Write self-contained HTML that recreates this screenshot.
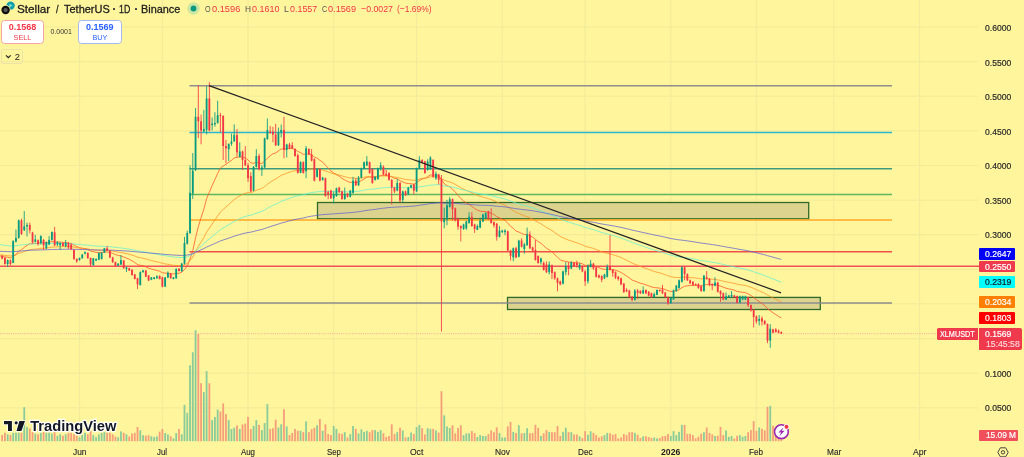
<!DOCTYPE html>
<html><head><meta charset="utf-8"><style>
*{margin:0;padding:0;box-sizing:border-box}
.aa{position:absolute;left:0;top:0;width:1024px;height:457px;will-change:transform}
html,body{width:1024px;height:457px;overflow:hidden;background:#FFF59D;font-family:"Liberation Sans",sans-serif;}
#c{position:absolute;left:0;top:0}
.t{position:absolute;white-space:nowrap;line-height:1}
.ax{position:absolute;left:984.8px;font-size:8.6px;color:#2a2a2a;-webkit-text-stroke:0.25px #2a2a2a;white-space:nowrap;line-height:1;transform-origin:left center;}
.lb{position:absolute;left:979px;width:35.6px;height:11.7px;font-size:8.7px;color:#fff;padding-left:6px;line-height:11.9px;white-space:nowrap}
.tl{position:absolute;top:447.6px;font-size:8.5px;color:#2a2a2a;white-space:nowrap;line-height:1;transform:translateX(-50%)}
</style></head><body><div class="aa">
<svg id="c" width="1024" height="457" viewBox="0 0 1024 457">
<line x1="0" y1="27.00" x2="978" y2="27.00" stroke="#F4EB9A" stroke-width="1.2"/>
<line x1="0" y1="61.62" x2="978" y2="61.62" stroke="#F4EB9A" stroke-width="1.2"/>
<line x1="0" y1="96.24" x2="978" y2="96.24" stroke="#F4EB9A" stroke-width="1.2"/>
<line x1="0" y1="130.86" x2="978" y2="130.86" stroke="#F4EB9A" stroke-width="1.2"/>
<line x1="0" y1="165.48" x2="978" y2="165.48" stroke="#F4EB9A" stroke-width="1.2"/>
<line x1="0" y1="200.10" x2="978" y2="200.10" stroke="#F4EB9A" stroke-width="1.2"/>
<line x1="0" y1="234.72" x2="978" y2="234.72" stroke="#F4EB9A" stroke-width="1.2"/>
<line x1="0" y1="269.34" x2="978" y2="269.34" stroke="#F4EB9A" stroke-width="1.2"/>
<line x1="0" y1="303.96" x2="978" y2="303.96" stroke="#F4EB9A" stroke-width="1.2"/>
<line x1="0" y1="338.58" x2="978" y2="338.58" stroke="#F4EB9A" stroke-width="1.2"/>
<line x1="0" y1="373.20" x2="978" y2="373.20" stroke="#F4EB9A" stroke-width="1.2"/>
<line x1="0" y1="407.82" x2="978" y2="407.82" stroke="#F4EB9A" stroke-width="1.2"/>
<line x1="79.5" y1="0" x2="79.5" y2="441" stroke="#F4EB9A" stroke-width="1.2"/>
<line x1="162.4" y1="0" x2="162.4" y2="441" stroke="#F4EB9A" stroke-width="1.2"/>
<line x1="248.0" y1="0" x2="248.0" y2="441" stroke="#F4EB9A" stroke-width="1.2"/>
<line x1="333.7" y1="0" x2="333.7" y2="441" stroke="#F4EB9A" stroke-width="1.2"/>
<line x1="416.6" y1="0" x2="416.6" y2="441" stroke="#F4EB9A" stroke-width="1.2"/>
<line x1="502.2" y1="0" x2="502.2" y2="441" stroke="#F4EB9A" stroke-width="1.2"/>
<line x1="585.1" y1="0" x2="585.1" y2="441" stroke="#F4EB9A" stroke-width="1.2"/>
<line x1="670.8" y1="0" x2="670.8" y2="441" stroke="#F4EB9A" stroke-width="1.2"/>
<line x1="756.4" y1="0" x2="756.4" y2="441" stroke="#F4EB9A" stroke-width="1.2"/>
<line x1="833.8" y1="0" x2="833.8" y2="441" stroke="#F4EB9A" stroke-width="1.2"/>
<line x1="919.5" y1="0" x2="919.5" y2="441" stroke="#F4EB9A" stroke-width="1.2"/>
<rect x="1.24" y="435.03" width="1.8" height="6.17" fill="#F59E7B"/>
<rect x="4.00" y="432.83" width="1.8" height="8.37" fill="#F59E7B"/>
<rect x="6.76" y="434.30" width="1.8" height="6.90" fill="#8BCB9A"/>
<rect x="9.52" y="435.03" width="1.8" height="6.17" fill="#F59E7B"/>
<rect x="12.29" y="432.83" width="1.8" height="8.37" fill="#8BCB9A"/>
<rect x="15.05" y="432.83" width="1.8" height="8.37" fill="#8BCB9A"/>
<rect x="17.81" y="432.83" width="1.8" height="8.37" fill="#8BCB9A"/>
<rect x="20.58" y="432.83" width="1.8" height="8.37" fill="#F59E7B"/>
<rect x="23.34" y="407.20" width="1.8" height="34.00" fill="#8BCB9A"/>
<rect x="26.10" y="426.97" width="1.8" height="14.23" fill="#8BCB9A"/>
<rect x="28.87" y="428.44" width="1.8" height="12.76" fill="#F59E7B"/>
<rect x="31.63" y="432.10" width="1.8" height="9.10" fill="#F59E7B"/>
<rect x="34.39" y="433.56" width="1.8" height="7.64" fill="#8BCB9A"/>
<rect x="37.16" y="434.30" width="1.8" height="6.90" fill="#F59E7B"/>
<rect x="39.92" y="432.83" width="1.8" height="8.37" fill="#8BCB9A"/>
<rect x="42.68" y="432.10" width="1.8" height="9.10" fill="#F59E7B"/>
<rect x="45.44" y="432.83" width="1.8" height="8.37" fill="#8BCB9A"/>
<rect x="48.21" y="432.83" width="1.8" height="8.37" fill="#8BCB9A"/>
<rect x="50.97" y="433.56" width="1.8" height="7.64" fill="#8BCB9A"/>
<rect x="53.73" y="432.10" width="1.8" height="9.10" fill="#F59E7B"/>
<rect x="56.50" y="435.76" width="1.8" height="5.44" fill="#8BCB9A"/>
<rect x="59.26" y="434.30" width="1.8" height="6.90" fill="#8BCB9A"/>
<rect x="62.02" y="435.76" width="1.8" height="5.44" fill="#F59E7B"/>
<rect x="64.78" y="434.30" width="1.8" height="6.90" fill="#8BCB9A"/>
<rect x="67.55" y="432.83" width="1.8" height="8.37" fill="#F59E7B"/>
<rect x="70.31" y="432.83" width="1.8" height="8.37" fill="#F59E7B"/>
<rect x="73.07" y="434.30" width="1.8" height="6.90" fill="#F59E7B"/>
<rect x="75.84" y="435.76" width="1.8" height="5.44" fill="#F59E7B"/>
<rect x="78.60" y="437.22" width="1.8" height="3.98" fill="#8BCB9A"/>
<rect x="81.36" y="435.03" width="1.8" height="6.17" fill="#8BCB9A"/>
<rect x="84.13" y="432.83" width="1.8" height="8.37" fill="#8BCB9A"/>
<rect x="86.89" y="434.30" width="1.8" height="6.90" fill="#F59E7B"/>
<rect x="89.65" y="430.63" width="1.8" height="10.57" fill="#F59E7B"/>
<rect x="92.41" y="435.03" width="1.8" height="6.17" fill="#8BCB9A"/>
<rect x="95.18" y="437.22" width="1.8" height="3.98" fill="#8BCB9A"/>
<rect x="97.94" y="434.30" width="1.8" height="6.90" fill="#8BCB9A"/>
<rect x="100.70" y="432.83" width="1.8" height="8.37" fill="#8BCB9A"/>
<rect x="103.47" y="432.10" width="1.8" height="9.10" fill="#8BCB9A"/>
<rect x="106.23" y="432.83" width="1.8" height="8.37" fill="#F59E7B"/>
<rect x="108.99" y="432.83" width="1.8" height="8.37" fill="#F59E7B"/>
<rect x="111.76" y="434.30" width="1.8" height="6.90" fill="#F59E7B"/>
<rect x="114.52" y="436.49" width="1.8" height="4.71" fill="#F59E7B"/>
<rect x="117.28" y="437.22" width="1.8" height="3.98" fill="#8BCB9A"/>
<rect x="120.04" y="431.37" width="1.8" height="9.83" fill="#8BCB9A"/>
<rect x="122.81" y="432.83" width="1.8" height="8.37" fill="#F59E7B"/>
<rect x="125.57" y="434.30" width="1.8" height="6.90" fill="#8BCB9A"/>
<rect x="128.33" y="436.49" width="1.8" height="4.71" fill="#F59E7B"/>
<rect x="131.10" y="433.56" width="1.8" height="7.64" fill="#F59E7B"/>
<rect x="133.86" y="432.83" width="1.8" height="8.37" fill="#F59E7B"/>
<rect x="136.62" y="426.97" width="1.8" height="14.23" fill="#F59E7B"/>
<rect x="139.39" y="430.33" width="1.8" height="10.87" fill="#8BCB9A"/>
<rect x="142.15" y="435.18" width="1.8" height="6.02" fill="#8BCB9A"/>
<rect x="144.91" y="435.72" width="1.8" height="5.48" fill="#F59E7B"/>
<rect x="147.67" y="435.18" width="1.8" height="6.02" fill="#F59E7B"/>
<rect x="150.44" y="436.25" width="1.8" height="4.95" fill="#8BCB9A"/>
<rect x="153.20" y="437.06" width="1.8" height="4.14" fill="#8BCB9A"/>
<rect x="155.96" y="436.25" width="1.8" height="4.95" fill="#8BCB9A"/>
<rect x="158.73" y="431.68" width="1.8" height="9.52" fill="#F59E7B"/>
<rect x="161.49" y="428.99" width="1.8" height="12.21" fill="#F59E7B"/>
<rect x="164.25" y="433.02" width="1.8" height="8.18" fill="#8BCB9A"/>
<rect x="167.02" y="434.37" width="1.8" height="6.83" fill="#8BCB9A"/>
<rect x="169.78" y="436.25" width="1.8" height="4.95" fill="#F59E7B"/>
<rect x="172.54" y="438.41" width="1.8" height="2.79" fill="#8BCB9A"/>
<rect x="175.30" y="433.02" width="1.8" height="8.18" fill="#8BCB9A"/>
<rect x="178.07" y="428.99" width="1.8" height="12.21" fill="#F59E7B"/>
<rect x="180.83" y="434.37" width="1.8" height="6.83" fill="#8BCB9A"/>
<rect x="183.59" y="404.77" width="1.8" height="36.43" fill="#8BCB9A"/>
<rect x="186.36" y="412.84" width="1.8" height="28.36" fill="#8BCB9A"/>
<rect x="189.12" y="365.21" width="1.8" height="75.99" fill="#8BCB9A"/>
<rect x="191.88" y="352.29" width="1.8" height="88.91" fill="#8BCB9A"/>
<rect x="194.65" y="330.23" width="1.8" height="110.97" fill="#8BCB9A"/>
<rect x="197.41" y="333.99" width="1.8" height="107.21" fill="#F59E7B"/>
<rect x="200.17" y="383.24" width="1.8" height="57.96" fill="#F59E7B"/>
<rect x="202.93" y="392.12" width="1.8" height="49.08" fill="#8BCB9A"/>
<rect x="205.70" y="371.13" width="1.8" height="70.07" fill="#8BCB9A"/>
<rect x="208.46" y="383.24" width="1.8" height="57.96" fill="#F59E7B"/>
<rect x="211.22" y="420.11" width="1.8" height="21.09" fill="#8BCB9A"/>
<rect x="213.99" y="416.88" width="1.8" height="24.32" fill="#8BCB9A"/>
<rect x="216.75" y="409.61" width="1.8" height="31.59" fill="#8BCB9A"/>
<rect x="219.51" y="411.50" width="1.8" height="29.70" fill="#F59E7B"/>
<rect x="222.28" y="403.42" width="1.8" height="37.78" fill="#F59E7B"/>
<rect x="225.04" y="414.19" width="1.8" height="27.01" fill="#F59E7B"/>
<rect x="227.80" y="420.11" width="1.8" height="21.09" fill="#8BCB9A"/>
<rect x="230.56" y="428.99" width="1.8" height="12.21" fill="#8BCB9A"/>
<rect x="233.33" y="427.64" width="1.8" height="13.56" fill="#8BCB9A"/>
<rect x="236.09" y="425.49" width="1.8" height="15.71" fill="#F59E7B"/>
<rect x="238.85" y="428.99" width="1.8" height="12.21" fill="#8BCB9A"/>
<rect x="241.62" y="424.41" width="1.8" height="16.79" fill="#F59E7B"/>
<rect x="244.38" y="423.61" width="1.8" height="17.59" fill="#F59E7B"/>
<rect x="247.14" y="416.88" width="1.8" height="24.32" fill="#F59E7B"/>
<rect x="249.91" y="428.99" width="1.8" height="12.21" fill="#F59E7B"/>
<rect x="252.67" y="425.76" width="1.8" height="15.44" fill="#8BCB9A"/>
<rect x="255.43" y="420.11" width="1.8" height="21.09" fill="#8BCB9A"/>
<rect x="258.20" y="424.95" width="1.8" height="16.25" fill="#F59E7B"/>
<rect x="260.96" y="430.11" width="1.8" height="11.09" fill="#8BCB9A"/>
<rect x="263.72" y="423.08" width="1.8" height="18.12" fill="#8BCB9A"/>
<rect x="266.48" y="404.04" width="1.8" height="37.16" fill="#8BCB9A"/>
<rect x="269.25" y="428.94" width="1.8" height="12.26" fill="#F59E7B"/>
<rect x="272.01" y="428.21" width="1.8" height="12.99" fill="#F59E7B"/>
<rect x="274.77" y="419.72" width="1.8" height="21.48" fill="#F59E7B"/>
<rect x="277.54" y="427.48" width="1.8" height="13.72" fill="#8BCB9A"/>
<rect x="280.30" y="424.26" width="1.8" height="16.94" fill="#8BCB9A"/>
<rect x="283.06" y="409.17" width="1.8" height="32.03" fill="#F59E7B"/>
<rect x="285.83" y="426.45" width="1.8" height="14.75" fill="#8BCB9A"/>
<rect x="288.59" y="435.10" width="1.8" height="6.10" fill="#F59E7B"/>
<rect x="291.35" y="433.04" width="1.8" height="8.16" fill="#F59E7B"/>
<rect x="294.11" y="428.94" width="1.8" height="12.26" fill="#F59E7B"/>
<rect x="296.88" y="430.70" width="1.8" height="10.50" fill="#F59E7B"/>
<rect x="299.64" y="430.70" width="1.8" height="10.50" fill="#8BCB9A"/>
<rect x="302.40" y="432.17" width="1.8" height="9.03" fill="#F59E7B"/>
<rect x="305.17" y="421.33" width="1.8" height="19.87" fill="#8BCB9A"/>
<rect x="307.93" y="432.17" width="1.8" height="9.03" fill="#F59E7B"/>
<rect x="310.69" y="429.24" width="1.8" height="11.96" fill="#F59E7B"/>
<rect x="313.46" y="427.77" width="1.8" height="13.43" fill="#F59E7B"/>
<rect x="316.22" y="425.28" width="1.8" height="15.92" fill="#8BCB9A"/>
<rect x="318.98" y="419.13" width="1.8" height="22.07" fill="#F59E7B"/>
<rect x="321.74" y="430.70" width="1.8" height="10.50" fill="#8BCB9A"/>
<rect x="324.51" y="424.26" width="1.8" height="16.94" fill="#F59E7B"/>
<rect x="327.27" y="434.07" width="1.8" height="7.13" fill="#F59E7B"/>
<rect x="330.03" y="435.10" width="1.8" height="6.10" fill="#F59E7B"/>
<rect x="332.80" y="426.01" width="1.8" height="15.19" fill="#8BCB9A"/>
<rect x="335.56" y="428.94" width="1.8" height="12.26" fill="#8BCB9A"/>
<rect x="338.32" y="433.34" width="1.8" height="7.86" fill="#F59E7B"/>
<rect x="341.09" y="434.07" width="1.8" height="7.13" fill="#F59E7B"/>
<rect x="343.85" y="432.17" width="1.8" height="9.03" fill="#8BCB9A"/>
<rect x="346.61" y="437.44" width="1.8" height="3.76" fill="#F59E7B"/>
<rect x="349.37" y="434.07" width="1.8" height="7.13" fill="#8BCB9A"/>
<rect x="352.14" y="426.01" width="1.8" height="15.19" fill="#8BCB9A"/>
<rect x="354.90" y="428.94" width="1.8" height="12.26" fill="#F59E7B"/>
<rect x="357.66" y="433.34" width="1.8" height="7.86" fill="#8BCB9A"/>
<rect x="360.43" y="429.24" width="1.8" height="11.96" fill="#8BCB9A"/>
<rect x="363.19" y="431.87" width="1.8" height="9.33" fill="#8BCB9A"/>
<rect x="365.95" y="430.85" width="1.8" height="10.35" fill="#8BCB9A"/>
<rect x="368.72" y="432.17" width="1.8" height="9.03" fill="#F59E7B"/>
<rect x="371.48" y="430.11" width="1.8" height="11.09" fill="#F59E7B"/>
<rect x="374.24" y="430.11" width="1.8" height="11.09" fill="#8BCB9A"/>
<rect x="377.00" y="431.87" width="1.8" height="9.33" fill="#8BCB9A"/>
<rect x="379.77" y="430.11" width="1.8" height="11.09" fill="#8BCB9A"/>
<rect x="382.53" y="433.34" width="1.8" height="7.86" fill="#F59E7B"/>
<rect x="385.29" y="437.00" width="1.8" height="4.20" fill="#F59E7B"/>
<rect x="388.06" y="435.97" width="1.8" height="5.23" fill="#F59E7B"/>
<rect x="390.82" y="424.26" width="1.8" height="16.94" fill="#F59E7B"/>
<rect x="393.58" y="434.07" width="1.8" height="7.13" fill="#F59E7B"/>
<rect x="396.35" y="432.17" width="1.8" height="9.03" fill="#8BCB9A"/>
<rect x="399.11" y="427.77" width="1.8" height="13.43" fill="#F59E7B"/>
<rect x="401.87" y="430.41" width="1.8" height="10.79" fill="#8BCB9A"/>
<rect x="404.63" y="437.44" width="1.8" height="3.76" fill="#F59E7B"/>
<rect x="407.40" y="437.00" width="1.8" height="4.20" fill="#8BCB9A"/>
<rect x="410.16" y="432.61" width="1.8" height="8.59" fill="#8BCB9A"/>
<rect x="412.92" y="434.07" width="1.8" height="7.13" fill="#F59E7B"/>
<rect x="415.69" y="427.04" width="1.8" height="14.16" fill="#8BCB9A"/>
<rect x="418.45" y="424.84" width="1.8" height="16.36" fill="#8BCB9A"/>
<rect x="421.21" y="428.21" width="1.8" height="12.99" fill="#F59E7B"/>
<rect x="423.98" y="434.51" width="1.8" height="6.69" fill="#F59E7B"/>
<rect x="426.74" y="428.21" width="1.8" height="12.99" fill="#8BCB9A"/>
<rect x="429.50" y="428.94" width="1.8" height="12.26" fill="#8BCB9A"/>
<rect x="432.26" y="428.94" width="1.8" height="12.26" fill="#F59E7B"/>
<rect x="435.03" y="430.41" width="1.8" height="10.79" fill="#8BCB9A"/>
<rect x="437.79" y="432.61" width="1.8" height="8.59" fill="#F59E7B"/>
<rect x="440.55" y="391.15" width="1.8" height="50.05" fill="#F59E7B"/>
<rect x="443.32" y="415.32" width="1.8" height="25.88" fill="#8BCB9A"/>
<rect x="446.08" y="426.45" width="1.8" height="14.75" fill="#8BCB9A"/>
<rect x="448.84" y="427.92" width="1.8" height="13.28" fill="#8BCB9A"/>
<rect x="451.61" y="425.28" width="1.8" height="15.92" fill="#F59E7B"/>
<rect x="454.37" y="433.34" width="1.8" height="7.86" fill="#F59E7B"/>
<rect x="457.13" y="427.92" width="1.8" height="13.28" fill="#F59E7B"/>
<rect x="459.89" y="425.28" width="1.8" height="15.92" fill="#F59E7B"/>
<rect x="462.66" y="435.10" width="1.8" height="6.10" fill="#8BCB9A"/>
<rect x="465.42" y="433.34" width="1.8" height="7.86" fill="#8BCB9A"/>
<rect x="468.18" y="433.34" width="1.8" height="7.86" fill="#8BCB9A"/>
<rect x="470.95" y="431.14" width="1.8" height="10.06" fill="#F59E7B"/>
<rect x="473.71" y="433.04" width="1.8" height="8.16" fill="#F59E7B"/>
<rect x="476.47" y="437.00" width="1.8" height="4.20" fill="#8BCB9A"/>
<rect x="479.24" y="435.10" width="1.8" height="6.10" fill="#8BCB9A"/>
<rect x="482.00" y="435.97" width="1.8" height="5.23" fill="#8BCB9A"/>
<rect x="484.76" y="435.97" width="1.8" height="5.23" fill="#8BCB9A"/>
<rect x="487.52" y="434.07" width="1.8" height="7.13" fill="#F59E7B"/>
<rect x="490.29" y="430.41" width="1.8" height="10.79" fill="#F59E7B"/>
<rect x="493.05" y="432.17" width="1.8" height="9.03" fill="#F59E7B"/>
<rect x="495.81" y="427.48" width="1.8" height="13.72" fill="#F59E7B"/>
<rect x="498.58" y="432.90" width="1.8" height="8.30" fill="#8BCB9A"/>
<rect x="501.34" y="437.44" width="1.8" height="3.76" fill="#8BCB9A"/>
<rect x="504.10" y="437.44" width="1.8" height="3.76" fill="#8BCB9A"/>
<rect x="506.87" y="426.45" width="1.8" height="14.75" fill="#F59E7B"/>
<rect x="509.63" y="421.91" width="1.8" height="19.29" fill="#F59E7B"/>
<rect x="512.39" y="431.87" width="1.8" height="9.33" fill="#8BCB9A"/>
<rect x="515.15" y="433.04" width="1.8" height="8.16" fill="#F59E7B"/>
<rect x="517.92" y="425.28" width="1.8" height="15.92" fill="#8BCB9A"/>
<rect x="520.68" y="433.34" width="1.8" height="7.86" fill="#F59E7B"/>
<rect x="523.44" y="433.04" width="1.8" height="8.16" fill="#8BCB9A"/>
<rect x="526.21" y="428.21" width="1.8" height="12.99" fill="#8BCB9A"/>
<rect x="528.97" y="433.34" width="1.8" height="7.86" fill="#F59E7B"/>
<rect x="531.73" y="433.04" width="1.8" height="8.16" fill="#F59E7B"/>
<rect x="534.50" y="424.84" width="1.8" height="16.36" fill="#F59E7B"/>
<rect x="537.26" y="427.77" width="1.8" height="13.43" fill="#F59E7B"/>
<rect x="540.02" y="435.97" width="1.8" height="5.23" fill="#8BCB9A"/>
<rect x="542.78" y="433.34" width="1.8" height="7.86" fill="#F59E7B"/>
<rect x="545.55" y="430.11" width="1.8" height="11.09" fill="#F59E7B"/>
<rect x="548.31" y="431.87" width="1.8" height="9.33" fill="#8BCB9A"/>
<rect x="551.07" y="432.17" width="1.8" height="9.03" fill="#F59E7B"/>
<rect x="553.84" y="432.17" width="1.8" height="9.03" fill="#F59E7B"/>
<rect x="556.60" y="426.01" width="1.8" height="15.19" fill="#F59E7B"/>
<rect x="559.36" y="435.97" width="1.8" height="5.23" fill="#F59E7B"/>
<rect x="562.12" y="431.87" width="1.8" height="9.33" fill="#8BCB9A"/>
<rect x="564.89" y="427.77" width="1.8" height="13.43" fill="#8BCB9A"/>
<rect x="567.65" y="432.17" width="1.8" height="9.03" fill="#F59E7B"/>
<rect x="570.41" y="432.17" width="1.8" height="9.03" fill="#8BCB9A"/>
<rect x="573.18" y="434.51" width="1.8" height="6.69" fill="#F59E7B"/>
<rect x="575.94" y="434.51" width="1.8" height="6.69" fill="#F59E7B"/>
<rect x="578.70" y="436.27" width="1.8" height="4.93" fill="#8BCB9A"/>
<rect x="581.47" y="438.02" width="1.8" height="3.18" fill="#F59E7B"/>
<rect x="584.23" y="431.14" width="1.8" height="10.06" fill="#F59E7B"/>
<rect x="586.99" y="434.80" width="1.8" height="6.40" fill="#8BCB9A"/>
<rect x="589.75" y="431.29" width="1.8" height="9.91" fill="#8BCB9A"/>
<rect x="592.52" y="432.90" width="1.8" height="8.30" fill="#F59E7B"/>
<rect x="595.28" y="435.10" width="1.8" height="6.10" fill="#F59E7B"/>
<rect x="598.04" y="437.44" width="1.8" height="3.76" fill="#F59E7B"/>
<rect x="600.81" y="436.27" width="1.8" height="4.93" fill="#F59E7B"/>
<rect x="603.57" y="435.10" width="1.8" height="6.10" fill="#8BCB9A"/>
<rect x="606.33" y="432.90" width="1.8" height="8.30" fill="#8BCB9A"/>
<rect x="609.10" y="433.34" width="1.8" height="7.86" fill="#F59E7B"/>
<rect x="611.86" y="434.80" width="1.8" height="6.40" fill="#F59E7B"/>
<rect x="614.62" y="434.07" width="1.8" height="7.13" fill="#F59E7B"/>
<rect x="617.38" y="438.46" width="1.8" height="2.74" fill="#F59E7B"/>
<rect x="620.15" y="437.44" width="1.8" height="3.76" fill="#F59E7B"/>
<rect x="622.91" y="434.07" width="1.8" height="7.13" fill="#F59E7B"/>
<rect x="625.67" y="435.10" width="1.8" height="6.10" fill="#F59E7B"/>
<rect x="628.44" y="432.17" width="1.8" height="9.03" fill="#F59E7B"/>
<rect x="631.20" y="432.17" width="1.8" height="9.03" fill="#F59E7B"/>
<rect x="633.96" y="432.90" width="1.8" height="8.30" fill="#8BCB9A"/>
<rect x="636.73" y="434.80" width="1.8" height="6.40" fill="#F59E7B"/>
<rect x="639.49" y="438.02" width="1.8" height="3.18" fill="#F59E7B"/>
<rect x="642.25" y="436.27" width="1.8" height="4.93" fill="#8BCB9A"/>
<rect x="645.01" y="436.27" width="1.8" height="4.93" fill="#F59E7B"/>
<rect x="647.78" y="437.00" width="1.8" height="4.20" fill="#F59E7B"/>
<rect x="650.54" y="438.02" width="1.8" height="3.18" fill="#F59E7B"/>
<rect x="653.30" y="437.44" width="1.8" height="3.76" fill="#8BCB9A"/>
<rect x="656.07" y="438.46" width="1.8" height="2.74" fill="#8BCB9A"/>
<rect x="658.83" y="438.02" width="1.8" height="3.18" fill="#F59E7B"/>
<rect x="661.59" y="436.27" width="1.8" height="4.93" fill="#F59E7B"/>
<rect x="664.36" y="435.97" width="1.8" height="5.23" fill="#F59E7B"/>
<rect x="667.12" y="434.07" width="1.8" height="7.13" fill="#F59E7B"/>
<rect x="669.88" y="435.97" width="1.8" height="5.23" fill="#8BCB9A"/>
<rect x="672.64" y="431.14" width="1.8" height="10.06" fill="#8BCB9A"/>
<rect x="675.41" y="435.10" width="1.8" height="6.10" fill="#8BCB9A"/>
<rect x="678.17" y="431.87" width="1.8" height="9.33" fill="#8BCB9A"/>
<rect x="680.93" y="424.96" width="1.8" height="16.24" fill="#8BCB9A"/>
<rect x="683.70" y="424.96" width="1.8" height="16.24" fill="#F59E7B"/>
<rect x="686.46" y="433.84" width="1.8" height="7.36" fill="#F59E7B"/>
<rect x="689.22" y="433.84" width="1.8" height="7.36" fill="#F59E7B"/>
<rect x="691.99" y="435.11" width="1.8" height="6.09" fill="#F59E7B"/>
<rect x="694.75" y="438.28" width="1.8" height="2.92" fill="#F59E7B"/>
<rect x="697.51" y="436.76" width="1.8" height="4.44" fill="#F59E7B"/>
<rect x="700.27" y="433.84" width="1.8" height="7.36" fill="#F59E7B"/>
<rect x="703.04" y="432.19" width="1.8" height="9.01" fill="#8BCB9A"/>
<rect x="705.80" y="427.50" width="1.8" height="13.70" fill="#F59E7B"/>
<rect x="708.56" y="432.95" width="1.8" height="8.25" fill="#F59E7B"/>
<rect x="711.33" y="434.47" width="1.8" height="6.73" fill="#F59E7B"/>
<rect x="714.09" y="436.00" width="1.8" height="5.20" fill="#8BCB9A"/>
<rect x="716.85" y="435.74" width="1.8" height="5.46" fill="#F59E7B"/>
<rect x="719.62" y="426.86" width="1.8" height="14.34" fill="#F59E7B"/>
<rect x="722.38" y="435.11" width="1.8" height="6.09" fill="#F59E7B"/>
<rect x="725.14" y="430.41" width="1.8" height="10.79" fill="#8BCB9A"/>
<rect x="727.90" y="436.76" width="1.8" height="4.44" fill="#8BCB9A"/>
<rect x="730.67" y="436.00" width="1.8" height="5.20" fill="#8BCB9A"/>
<rect x="733.43" y="438.53" width="1.8" height="2.67" fill="#F59E7B"/>
<rect x="736.19" y="435.74" width="1.8" height="5.46" fill="#F59E7B"/>
<rect x="738.96" y="435.11" width="1.8" height="6.09" fill="#8BCB9A"/>
<rect x="741.72" y="436.76" width="1.8" height="4.44" fill="#8BCB9A"/>
<rect x="744.48" y="436.00" width="1.8" height="5.20" fill="#8BCB9A"/>
<rect x="747.25" y="432.19" width="1.8" height="9.01" fill="#F59E7B"/>
<rect x="750.01" y="430.03" width="1.8" height="11.17" fill="#F59E7B"/>
<rect x="752.77" y="421.15" width="1.8" height="20.05" fill="#F59E7B"/>
<rect x="755.53" y="430.92" width="1.8" height="10.28" fill="#F59E7B"/>
<rect x="758.30" y="427.50" width="1.8" height="13.70" fill="#8BCB9A"/>
<rect x="761.06" y="428.77" width="1.8" height="12.43" fill="#F59E7B"/>
<rect x="763.82" y="430.41" width="1.8" height="10.79" fill="#F59E7B"/>
<rect x="766.59" y="406.82" width="1.8" height="34.38" fill="#F59E7B"/>
<rect x="769.35" y="405.93" width="1.8" height="35.27" fill="#8BCB9A"/>
<rect x="772.11" y="425.85" width="1.8" height="15.35" fill="#F59E7B"/>
<rect x="774.88" y="435.74" width="1.8" height="5.46" fill="#F59E7B"/>
<rect x="777.64" y="438.28" width="1.8" height="2.92" fill="#F59E7B"/>
<rect x="780.40" y="439.55" width="1.8" height="1.65" fill="#F59E7B"/>
<rect x="317.5" y="202.5" width="491.20000000000005" height="16.3" fill="#DCD48E" stroke="#2F6A2A" stroke-width="1.3"/>
<rect x="507.5" y="297.4" width="312.79999999999995" height="12.1" fill="#DCD48E" stroke="#2F6A2A" stroke-width="1.3"/>
<line x1="189.5" y1="85.8" x2="892" y2="85.8" stroke="#8E8E8E" stroke-width="1.5"/>
<line x1="189.5" y1="132.4" x2="892" y2="132.4" stroke="#2CB8CF" stroke-width="1.5"/>
<line x1="189.5" y1="168.7" x2="892" y2="168.7" stroke="#3E9C7C" stroke-width="1.5"/>
<line x1="189.5" y1="194.4" x2="892" y2="194.4" stroke="#5DB85F" stroke-width="1.5"/>
<line x1="189.5" y1="219.9" x2="892" y2="219.9" stroke="#FFA726" stroke-width="1.5"/>
<line x1="189.5" y1="251.8" x2="892" y2="251.8" stroke="#F0504A" stroke-width="1.5"/>
<line x1="189.5" y1="303.1" x2="892" y2="303.1" stroke="#8C8C8C" stroke-width="1.5"/>
<line x1="0" y1="266.2" x2="979" y2="266.2" stroke="#F0505A" stroke-width="1.5"/>
<line x1="0" y1="333.7" x2="979" y2="333.7" stroke="#F6AC98" stroke-width="1" stroke-dasharray="1,1.2"/>
<polyline points="0,256 2.14,256.25 4.90,256.98 7.66,257.28 10.42,257.92 13.19,256.31 15.95,254.55 18.71,251.29 21.48,249.66 24.24,247.44 27.00,245.30 29.77,243.87 32.53,243.74 35.29,243.33 38.05,243.40 40.82,242.70 43.58,242.95 46.34,242.88 49.11,242.59 51.87,241.58 54.63,241.93 57.40,241.96 60.16,242.05 62.92,242.43 65.69,242.48 68.45,242.97 71.21,243.58 73.97,245.05 76.74,246.61 79.50,247.69 82.26,248.33 85.03,248.70 87.79,249.61 90.55,251.02 93.31,251.71 96.08,252.41 98.84,252.46 101.60,252.48 104.37,252.08 107.13,251.94 109.89,252.47 112.66,253.39 115.42,254.59 118.18,255.45 120.94,255.89 123.71,257.07 126.47,258.06 129.23,259.25 132.00,260.76 134.76,262.49 137.52,264.57 140.29,265.29 143.05,265.79 145.81,266.82 148.57,268.12 151.34,269.01 154.10,269.81 156.86,270.43 159.63,271.25 162.39,272.71 165.15,273.16 167.92,273.13 170.68,273.61 173.44,273.97 176.20,273.50 178.97,273.26 181.73,272.35 184.49,269.55 187.26,266.07 190.02,259.09 192.78,250.66 195.55,237.91 198.31,226.81 201.07,217.64 203.83,209.19 206.60,198.64 209.36,192.15 212.12,185.62 214.89,179.65 217.65,173.51 220.41,168.03 223.18,165.94 225.94,164.27 228.70,162.32 231.47,160.33 234.23,157.93 236.99,157.39 239.75,156.83 242.52,157.13 245.28,157.91 248.04,159.85 250.81,162.85 253.57,163.23 256.33,162.54 259.10,163.15 261.86,163.56 264.62,161.16 267.38,158.19 270.15,155.79 272.91,153.76 275.67,152.95 278.44,150.98 281.20,148.97 283.96,149.06 286.73,148.62 289.49,148.59 292.25,148.56 295.01,149.27 297.78,151.51 300.54,152.52 303.30,154.46 306.07,153.87 308.83,153.93 311.59,154.56 314.36,157.05 317.12,158.20 319.88,160.34 322.64,161.98 325.41,165.22 328.17,168.00 330.93,170.88 333.70,173.13 336.46,174.57 339.22,176.25 341.99,178.42 344.75,179.87 347.51,181.48 350.27,182.35 353.04,182.19 355.80,182.48 358.56,182.01 361.33,180.72 364.09,178.96 366.85,177.29 369.62,176.88 372.38,177.46 375.14,177.40 377.90,176.54 380.67,175.47 383.43,175.38 386.19,175.37 388.96,175.80 391.72,176.92 394.48,178.30 397.25,178.74 400.01,180.82 402.77,181.83 405.53,183.10 408.30,183.53 411.06,183.69 413.82,184.35 416.59,182.83 419.35,180.65 422.11,178.90 424.88,178.34 427.64,176.73 430.40,174.92 433.16,175.10 435.93,174.97 438.69,175.44 441.45,179.82 444.22,183.56 446.98,185.63 449.74,186.92 452.50,189.04 455.27,192.05 458.03,195.36 460.79,198.50 463.56,200.97 466.32,202.92 469.08,204.24 471.85,206.32 474.61,208.48 477.37,210.15 480.13,211.15 482.90,211.47 485.66,211.62 488.42,212.33 491.19,213.34 493.95,214.48 496.71,216.60 499.48,217.93 502.24,219.14 505.00,220.23 507.76,223.12 510.53,226.24 513.29,228.34 516.05,231.11 518.82,232.01 521.58,233.41 524.34,234.46 527.11,234.45 529.87,235.77 532.63,237.17 535.39,239.34 538.16,241.59 540.92,243.19 543.68,245.73 546.45,248.25 549.21,249.80 551.97,252.01 554.74,254.51 557.50,257.22 560.26,259.81 563.02,260.92 565.79,261.41 568.55,262.14 571.31,262.15 574.08,262.52 576.84,262.78 579.60,262.95 582.37,263.76 585.13,265.43 587.89,265.42 590.65,265.26 593.42,265.56 596.18,266.62 598.94,267.67 601.71,268.83 604.47,269.36 607.23,269.12 610.00,269.19 612.76,269.55 615.52,270.31 618.28,271.15 621.05,272.41 623.81,274.29 626.57,275.91 629.34,277.97 632.10,280.04 634.86,281.05 637.63,282.17 640.39,283.23 643.15,283.90 645.91,284.80 648.68,285.83 651.44,286.91 654.20,287.59 656.97,287.81 659.73,288.12 662.49,288.61 665.26,289.43 668.02,290.75 670.78,291.43 673.54,291.32 676.31,290.78 679.07,289.78 681.83,287.63 684.60,286.35 687.36,285.77 690.12,285.54 692.89,285.48 695.65,285.42 698.41,285.66 701.17,286.17 703.94,285.17 706.70,284.56 709.46,284.59 712.23,284.69 714.99,284.49 717.75,285.19 720.52,286.03 723.28,287.31 726.04,288.18 728.80,288.88 731.57,289.45 734.33,290.18 737.09,291.39 739.86,291.86 742.62,292.29 745.38,292.68 748.15,293.87 750.91,295.44 753.67,297.48 756.43,299.77 759.20,301.59 761.96,303.49 764.72,305.46 767.49,308.81 770.25,310.70 773.01,312.80 775.78,314.63 778.54,316.35 781.30,318.00" fill="none" stroke="#FF5020" stroke-width="1" stroke-opacity="0.75"/>
<polyline points="0,255 2.14,255.14 4.90,255.49 7.66,255.67 10.42,255.99 13.19,255.41 15.95,254.72 18.71,253.37 21.48,252.61 24.24,251.59 27.00,250.54 29.77,249.75 32.53,249.46 35.29,249.07 38.05,248.87 40.82,248.37 43.58,248.25 46.34,248.01 49.11,247.70 51.87,247.08 54.63,247.01 57.40,246.82 60.16,246.67 62.92,246.64 65.69,246.50 68.45,246.54 71.21,246.65 73.97,247.14 76.74,247.70 79.50,248.10 82.26,248.35 85.03,248.50 87.79,248.88 90.55,249.49 93.31,249.84 96.08,250.20 98.84,250.30 101.60,250.40 104.37,250.31 107.13,250.33 109.89,250.61 112.66,251.06 115.42,251.64 118.18,252.11 120.94,252.43 123.71,253.05 126.47,253.61 129.23,254.28 132.00,255.10 134.76,256.03 137.52,257.14 140.29,257.73 143.05,258.23 145.81,258.95 148.57,259.80 151.34,260.49 154.10,261.15 156.86,261.75 159.63,262.42 162.39,263.37 165.15,263.92 167.92,264.27 170.68,264.82 173.44,265.31 176.20,265.46 178.97,265.67 181.73,265.59 184.49,264.71 187.26,263.46 190.02,260.69 192.78,257.16 195.55,251.66 198.31,246.54 201.07,241.99 203.83,237.56 206.60,232.10 209.36,228.12 212.12,224.02 214.89,220.06 217.65,215.94 220.41,212.02 223.18,209.44 225.94,207.04 228.70,204.56 231.47,202.09 234.23,199.46 236.99,197.61 239.75,195.80 242.52,194.40 245.28,193.26 248.04,192.67 250.81,192.62 253.57,191.61 256.33,190.21 259.10,189.38 261.86,188.52 264.62,186.55 267.38,184.33 270.15,182.32 272.91,180.44 275.67,179.06 278.44,177.23 281.20,175.37 283.96,174.37 286.73,173.20 289.49,172.22 292.25,171.28 295.01,170.68 297.78,170.77 300.54,170.43 303.30,170.52 306.07,169.65 308.83,169.06 311.59,168.72 314.36,169.19 317.12,169.19 319.88,169.64 322.64,169.95 325.41,170.97 328.17,171.89 330.93,172.93 333.70,173.77 336.46,174.34 339.22,175.04 341.99,175.98 344.75,176.67 347.51,177.46 350.27,177.98 353.04,178.08 355.80,178.36 358.56,178.33 361.33,177.94 364.09,177.33 366.85,176.71 369.62,176.56 372.38,176.81 375.14,176.81 377.90,176.48 380.67,176.04 383.43,175.98 386.19,175.96 388.96,176.11 391.72,176.56 394.48,177.14 397.25,177.37 400.01,178.28 402.77,178.79 405.53,179.44 408.30,179.75 411.06,179.97 413.82,180.39 416.59,179.92 419.35,179.13 422.11,178.47 424.88,178.26 427.64,177.60 430.40,176.82 433.16,176.82 435.93,176.70 438.69,176.82 441.45,178.57 444.22,180.16 446.98,181.15 449.74,181.86 452.50,182.93 455.27,184.41 458.03,186.07 460.79,187.72 463.56,189.17 466.32,190.43 469.08,191.47 471.85,192.82 474.61,194.24 477.37,195.49 480.13,196.48 482.90,197.18 485.66,197.80 488.42,198.64 491.19,199.59 493.95,200.60 496.71,202.02 499.48,203.14 502.24,204.21 505.00,205.25 507.76,207.03 510.53,208.94 513.29,210.48 516.05,212.32 518.82,213.43 521.58,214.74 524.34,215.90 527.11,216.63 529.87,217.87 532.63,219.15 535.39,220.75 538.16,222.40 540.92,223.82 543.68,225.62 546.45,227.45 549.21,228.90 551.97,230.63 554.74,232.50 557.50,234.48 560.26,236.44 563.02,237.81 565.79,238.92 568.55,240.10 571.31,240.97 574.08,241.95 576.84,242.87 579.60,243.72 582.37,244.80 585.13,246.24 587.89,246.98 590.65,247.64 593.42,248.45 596.18,249.56 598.94,250.66 601.71,251.81 604.47,252.70 607.23,253.25 610.00,253.90 612.76,254.65 615.52,255.55 618.28,256.47 621.05,257.57 623.81,258.92 626.57,260.19 629.34,261.65 632.10,263.15 634.86,264.22 637.63,265.35 640.39,266.44 643.15,267.38 645.91,268.40 648.68,269.46 651.44,270.55 654.20,271.47 656.97,272.20 659.73,272.93 662.49,273.73 665.26,274.65 668.02,275.77 670.78,276.64 673.54,277.18 676.31,277.51 679.07,277.62 681.83,277.21 684.60,277.09 687.36,277.22 690.12,277.46 692.89,277.75 695.65,278.03 698.41,278.42 701.17,278.91 703.94,278.78 706.70,278.78 709.46,279.02 712.23,279.28 714.99,279.41 717.75,279.90 720.52,280.45 723.28,281.20 726.04,281.79 728.80,282.34 731.57,282.83 734.33,283.39 737.09,284.15 739.86,284.63 742.62,285.09 745.38,285.53 748.15,286.30 750.91,287.24 753.67,288.41 756.43,289.71 759.20,290.85 761.96,292.05 764.72,293.31 767.49,295.17 770.25,296.48 773.01,297.90 775.78,299.24 778.54,300.55 781.30,301.85" fill="none" stroke="#FF9020" stroke-width="1" stroke-opacity="0.75"/>
<polyline points="0,244.7 2.14,244.98 4.90,245.35 7.66,245.64 10.42,246.01 13.19,245.91 15.95,245.75 18.71,245.25 21.48,245.02 24.24,244.66 27.00,244.27 29.77,243.99 32.53,243.96 35.29,243.87 38.05,243.87 40.82,243.72 43.58,243.75 46.34,243.72 49.11,243.64 51.87,243.41 54.63,243.45 57.40,243.42 60.16,243.42 62.92,243.47 65.69,243.46 68.45,243.54 71.21,243.65 73.97,243.96 76.74,244.30 79.50,244.57 82.26,244.77 85.03,244.92 87.79,245.18 90.55,245.56 93.31,245.81 96.08,246.08 98.84,246.21 101.60,246.34 104.37,246.38 107.13,246.46 109.89,246.68 112.66,246.99 115.42,247.36 118.18,247.68 120.94,247.93 123.71,248.33 126.47,248.71 129.23,249.14 132.00,249.66 134.76,250.24 137.52,250.91 140.29,251.33 143.05,251.71 145.81,252.21 148.57,252.77 151.34,253.26 154.10,253.73 156.86,254.18 159.63,254.67 162.39,255.31 165.15,255.74 167.92,256.08 170.68,256.52 173.44,256.93 176.20,257.17 178.97,257.45 181.73,257.57 184.49,257.28 187.26,256.80 190.02,255.53 192.78,253.85 195.55,251.14 198.31,248.57 201.07,246.23 203.83,243.91 206.60,241.02 209.36,238.84 212.12,236.55 214.89,234.30 217.65,231.95 220.41,229.65 223.18,227.99 225.94,226.42 228.70,224.78 231.47,223.13 234.23,221.39 236.99,220.02 239.75,218.66 242.52,217.50 245.28,216.47 248.04,215.71 250.81,215.23 253.57,214.27 256.33,213.12 259.10,212.24 261.86,211.36 264.62,209.91 267.38,208.33 270.15,206.83 272.91,205.40 275.67,204.21 278.44,202.79 281.20,201.34 283.96,200.32 286.73,199.22 289.49,198.21 292.25,197.22 295.01,196.40 297.78,195.94 300.54,195.27 303.30,194.82 306.07,193.90 308.83,193.12 311.59,192.48 314.36,192.24 317.12,191.79 319.88,191.57 322.64,191.29 325.41,191.38 328.17,191.44 330.93,191.58 333.70,191.63 336.46,191.57 339.22,191.58 341.99,191.73 344.75,191.77 347.51,191.86 350.27,191.84 353.04,191.62 355.80,191.49 358.56,191.22 361.33,190.76 364.09,190.20 366.85,189.63 369.62,189.30 372.38,189.18 375.14,188.93 377.90,188.53 380.67,188.07 383.43,187.80 386.19,187.55 388.96,187.40 391.72,187.40 394.48,187.48 397.25,187.39 400.01,187.65 402.77,187.73 405.53,187.87 408.30,187.87 411.06,187.82 413.82,187.87 416.59,187.48 419.35,186.94 422.11,186.45 424.88,186.18 427.64,185.70 430.40,185.14 433.16,184.98 435.93,184.75 438.69,184.66 441.45,185.38 444.22,186.05 446.98,186.43 449.74,186.69 452.50,187.13 455.27,187.80 458.03,188.57 460.79,189.35 463.56,190.05 466.32,190.67 469.08,191.19 471.85,191.88 474.61,192.62 477.37,193.28 480.13,193.82 482.90,194.23 485.66,194.60 488.42,195.09 491.19,195.64 493.95,196.22 496.71,197.03 499.48,197.69 502.24,198.34 505.00,198.98 507.76,200.00 510.53,201.11 513.29,202.04 516.05,203.14 518.82,203.88 521.58,204.73 524.34,205.52 527.11,206.09 529.87,206.92 532.63,207.79 535.39,208.82 538.16,209.89 540.92,210.85 543.68,212.02 546.45,213.21 549.21,214.23 551.97,215.39 554.74,216.64 557.50,217.95 560.26,219.27 563.02,220.30 565.79,221.20 568.55,222.15 571.31,222.95 574.08,223.80 576.84,224.62 579.60,225.41 582.37,226.32 585.13,227.41 587.89,228.16 590.65,228.87 593.42,229.65 596.18,230.58 598.94,231.51 601.71,232.47 604.47,233.30 607.23,233.97 610.00,234.68 612.76,235.44 615.52,236.27 618.28,237.12 621.05,238.05 623.81,239.12 626.57,240.16 629.34,241.29 632.10,242.45 634.86,243.40 637.63,244.38 640.39,245.35 643.15,246.24 645.91,247.17 648.68,248.13 651.44,249.10 654.20,249.99 656.97,250.79 659.73,251.58 662.49,252.41 665.26,253.29 668.02,254.28 670.78,255.15 673.54,255.84 676.31,256.43 679.07,256.91 681.83,257.11 684.60,257.45 687.36,257.90 690.12,258.40 692.89,258.93 695.65,259.44 698.41,260.01 701.17,260.62 703.94,260.92 706.70,261.27 709.46,261.74 712.23,262.21 714.99,262.62 717.75,263.19 720.52,263.81 723.28,264.51 726.04,265.14 728.80,265.75 731.57,266.32 734.33,266.93 737.09,267.64 739.86,268.21 742.62,268.77 745.38,269.32 748.15,270.03 750.91,270.82 753.67,271.74 756.43,272.72 759.20,273.64 761.96,274.59 764.72,275.57 767.49,276.85 770.25,277.88 773.01,278.97 775.78,280.02 778.54,281.06 781.30,282.10" fill="none" stroke="#60F0D0" stroke-width="1" stroke-opacity="0.75"/>
<polyline points="0,251.3 2.14,251.37 4.90,251.50 7.66,251.58 10.42,251.71 13.19,251.60 15.95,251.46 18.71,251.15 21.48,250.98 24.24,250.74 27.00,250.48 29.77,250.28 32.53,250.20 35.29,250.10 38.05,250.04 40.82,249.90 43.58,249.85 46.34,249.78 49.11,249.68 51.87,249.50 54.63,249.46 57.40,249.39 60.16,249.32 62.92,249.29 65.69,249.23 68.45,249.21 71.21,249.21 73.97,249.31 76.74,249.43 79.50,249.52 82.26,249.57 85.03,249.59 87.79,249.68 90.55,249.82 93.31,249.91 96.08,250.00 98.84,250.03 101.60,250.05 104.37,250.04 107.13,250.04 109.89,250.12 112.66,250.24 115.42,250.39 118.18,250.52 120.94,250.62 123.71,250.80 126.47,250.96 129.23,251.16 132.00,251.40 134.76,251.67 137.52,251.99 140.29,252.19 143.05,252.38 145.81,252.62 148.57,252.90 151.34,253.14 154.10,253.38 156.86,253.61 159.63,253.86 162.39,254.19 165.15,254.42 167.92,254.60 170.68,254.84 173.44,255.06 176.20,255.20 178.97,255.36 181.73,255.44 184.49,255.32 187.26,255.09 190.02,254.47 192.78,253.64 195.55,252.28 198.31,250.97 201.07,249.78 203.83,248.57 206.60,247.08 209.36,245.92 212.12,244.70 214.89,243.49 217.65,242.21 220.41,240.96 223.18,240.01 225.94,239.10 228.70,238.15 231.47,237.19 234.23,236.18 236.99,235.34 239.75,234.51 242.52,233.77 245.28,233.08 248.04,232.54 250.81,232.13 253.57,231.48 256.33,230.73 259.10,230.11 261.86,229.49 264.62,228.58 267.38,227.60 270.15,226.66 272.91,225.74 275.67,224.94 278.44,224.02 281.20,223.08 283.96,222.36 286.73,221.58 289.49,220.85 292.25,220.13 295.01,219.49 297.78,219.03 300.54,218.46 303.30,218.01 306.07,217.31 308.83,216.69 311.59,216.13 314.36,215.78 317.12,215.31 319.88,214.97 322.64,214.60 325.41,214.41 328.17,214.21 330.93,214.05 333.70,213.86 336.46,213.60 339.22,213.39 341.99,213.25 344.75,213.05 347.51,212.89 350.27,212.67 353.04,212.35 355.80,212.08 358.56,211.74 361.33,211.31 364.09,210.82 366.85,210.33 369.62,209.96 372.38,209.69 375.14,209.36 377.90,208.95 380.67,208.52 383.43,208.18 386.19,207.85 388.96,207.57 391.72,207.38 394.48,207.22 397.25,206.97 400.01,206.91 402.77,206.76 405.53,206.64 408.30,206.45 411.06,206.24 413.82,206.09 416.59,205.71 419.35,205.25 422.11,204.83 424.88,204.51 427.64,204.08 430.40,203.62 433.16,203.35 435.93,203.06 438.69,202.83 441.45,203.01 444.22,203.17 446.98,203.19 449.74,203.16 452.50,203.21 455.27,203.39 458.03,203.62 460.79,203.87 463.56,204.07 466.32,204.24 469.08,204.37 471.85,204.59 474.61,204.83 477.37,205.04 480.13,205.19 482.90,205.29 485.66,205.36 488.42,205.50 491.19,205.67 493.95,205.87 496.71,206.18 499.48,206.42 502.24,206.66 505.00,206.90 507.76,207.33 510.53,207.82 513.29,208.22 516.05,208.71 518.82,209.03 521.58,209.40 524.34,209.75 527.11,209.99 529.87,210.37 532.63,210.77 535.39,211.26 538.16,211.78 540.92,212.24 543.68,212.82 546.45,213.41 549.21,213.92 551.97,214.50 554.74,215.14 557.50,215.81 560.26,216.49 563.02,217.04 565.79,217.53 568.55,218.04 571.31,218.48 574.08,218.96 576.84,219.42 579.60,219.86 582.37,220.38 585.13,220.98 587.89,221.43 590.65,221.85 593.42,222.31 596.18,222.85 598.94,223.40 601.71,223.96 604.47,224.46 607.23,224.88 610.00,225.33 612.76,225.80 615.52,226.32 618.28,226.84 621.05,227.42 623.81,228.06 626.57,228.69 629.34,229.37 632.10,230.07 634.86,230.68 637.63,231.30 640.39,231.91 643.15,232.49 645.91,233.10 648.68,233.72 651.44,234.35 654.20,234.95 656.97,235.49 659.73,236.05 662.49,236.62 665.26,237.22 668.02,237.87 670.78,238.47 673.54,238.99 676.31,239.45 679.07,239.86 681.83,240.13 684.60,240.47 687.36,240.87 690.12,241.29 692.89,241.72 695.65,242.15 698.41,242.61 701.17,243.09 703.94,243.41 706.70,243.76 709.46,244.17 712.23,244.59 714.99,244.96 717.75,245.43 720.52,245.91 723.28,246.45 726.04,246.94 728.80,247.43 731.57,247.90 734.33,248.39 737.09,248.93 739.86,249.40 742.62,249.87 745.38,250.33 748.15,250.88 750.91,251.47 753.67,252.12 756.43,252.81 759.20,253.47 761.96,254.15 764.72,254.84 767.49,255.70 770.25,256.42 773.01,257.18 775.78,257.93 778.54,258.67 781.30,259.42" fill="none" stroke="#6060D0" stroke-width="1" stroke-opacity="0.75"/>
<line x1="2.14" y1="254.77" x2="2.14" y2="259.36" stroke="#F23645" stroke-width="1.0" stroke-opacity="0.85"/>
<rect x="1.24" y="256.30" width="1.8" height="2.30" fill="#F23645"/>
<line x1="4.90" y1="257.07" x2="4.90" y2="264.72" stroke="#F23645" stroke-width="1.0" stroke-opacity="0.85"/>
<rect x="4.00" y="257.83" width="1.8" height="6.13" fill="#F23645"/>
<line x1="7.66" y1="259.36" x2="7.66" y2="267.02" stroke="#089981" stroke-width="1.0" stroke-opacity="0.85"/>
<rect x="6.76" y="260.13" width="1.8" height="3.83" fill="#089981"/>
<line x1="10.42" y1="259.36" x2="10.42" y2="265.49" stroke="#F23645" stroke-width="1.0" stroke-opacity="0.85"/>
<rect x="9.52" y="260.44" width="1.8" height="3.52" fill="#F23645"/>
<line x1="13.19" y1="240.22" x2="13.19" y2="263.19" stroke="#089981" stroke-width="1.0" stroke-opacity="0.85"/>
<rect x="12.29" y="240.99" width="1.8" height="21.90" fill="#089981"/>
<line x1="15.95" y1="229.50" x2="15.95" y2="242.52" stroke="#089981" stroke-width="1.0" stroke-opacity="0.85"/>
<rect x="15.05" y="237.92" width="1.8" height="3.83" fill="#089981"/>
<line x1="18.71" y1="219.55" x2="18.71" y2="238.69" stroke="#089981" stroke-width="1.0" stroke-opacity="0.85"/>
<rect x="17.81" y="220.31" width="1.8" height="17.61" fill="#089981"/>
<line x1="21.48" y1="218.78" x2="21.48" y2="234.86" stroke="#F23645" stroke-width="1.0" stroke-opacity="0.85"/>
<rect x="20.58" y="220.31" width="1.8" height="13.78" fill="#F23645"/>
<line x1="24.24" y1="211.13" x2="24.24" y2="231.03" stroke="#089981" stroke-width="1.0" stroke-opacity="0.85"/>
<rect x="23.34" y="226.44" width="1.8" height="3.83" fill="#089981"/>
<line x1="27.00" y1="222.61" x2="27.00" y2="236.39" stroke="#089981" stroke-width="1.0" stroke-opacity="0.85"/>
<rect x="26.10" y="224.91" width="1.8" height="1.53" fill="#089981"/>
<line x1="29.77" y1="222.61" x2="29.77" y2="233.33" stroke="#F23645" stroke-width="1.0" stroke-opacity="0.85"/>
<rect x="28.87" y="224.91" width="1.8" height="5.36" fill="#F23645"/>
<line x1="32.53" y1="231.80" x2="32.53" y2="243.28" stroke="#F23645" stroke-width="1.0" stroke-opacity="0.85"/>
<rect x="31.63" y="232.57" width="1.8" height="9.95" fill="#F23645"/>
<line x1="35.29" y1="234.86" x2="35.29" y2="242.52" stroke="#089981" stroke-width="1.0" stroke-opacity="0.85"/>
<rect x="34.39" y="239.46" width="1.8" height="2.30" fill="#089981"/>
<line x1="38.05" y1="239.46" x2="38.05" y2="245.58" stroke="#F23645" stroke-width="1.0" stroke-opacity="0.85"/>
<rect x="37.16" y="240.22" width="1.8" height="3.83" fill="#F23645"/>
<line x1="40.82" y1="235.31" x2="40.82" y2="244.50" stroke="#089981" stroke-width="1.0" stroke-opacity="0.85"/>
<rect x="39.92" y="236.08" width="1.8" height="6.89" fill="#089981"/>
<line x1="43.58" y1="239.14" x2="43.58" y2="249.86" stroke="#F23645" stroke-width="1.0" stroke-opacity="0.85"/>
<rect x="42.68" y="239.91" width="1.8" height="5.36" fill="#F23645"/>
<line x1="46.34" y1="241.44" x2="46.34" y2="249.10" stroke="#089981" stroke-width="1.0" stroke-opacity="0.85"/>
<rect x="45.44" y="242.21" width="1.8" height="6.13" fill="#089981"/>
<line x1="49.11" y1="236.08" x2="49.11" y2="245.27" stroke="#089981" stroke-width="1.0" stroke-opacity="0.85"/>
<rect x="48.21" y="239.91" width="1.8" height="4.59" fill="#089981"/>
<line x1="51.87" y1="231.49" x2="51.87" y2="240.67" stroke="#089981" stroke-width="1.0" stroke-opacity="0.85"/>
<rect x="50.97" y="231.94" width="1.8" height="7.96" fill="#089981"/>
<line x1="54.63" y1="226.89" x2="54.63" y2="246.03" stroke="#F23645" stroke-width="1.0" stroke-opacity="0.85"/>
<rect x="53.73" y="232.25" width="1.8" height="13.02" fill="#F23645"/>
<line x1="57.40" y1="241.13" x2="57.40" y2="246.03" stroke="#089981" stroke-width="1.0" stroke-opacity="0.85"/>
<rect x="56.50" y="242.21" width="1.8" height="2.30" fill="#089981"/>
<line x1="60.16" y1="242.21" x2="60.16" y2="249.86" stroke="#089981" stroke-width="1.0" stroke-opacity="0.85"/>
<rect x="59.26" y="242.97" width="1.8" height="2.30" fill="#089981"/>
<line x1="62.92" y1="242.66" x2="62.92" y2="246.34" stroke="#F23645" stroke-width="1.0" stroke-opacity="0.85"/>
<rect x="62.02" y="242.97" width="1.8" height="3.06" fill="#F23645"/>
<line x1="65.69" y1="239.91" x2="65.69" y2="247.57" stroke="#089981" stroke-width="1.0" stroke-opacity="0.85"/>
<rect x="64.78" y="242.97" width="1.8" height="3.06" fill="#089981"/>
<line x1="68.45" y1="242.21" x2="68.45" y2="249.10" stroke="#F23645" stroke-width="1.0" stroke-opacity="0.85"/>
<rect x="67.55" y="242.97" width="1.8" height="4.59" fill="#F23645"/>
<line x1="71.21" y1="242.97" x2="71.21" y2="249.86" stroke="#F23645" stroke-width="1.0" stroke-opacity="0.85"/>
<rect x="70.31" y="244.50" width="1.8" height="4.90" fill="#F23645"/>
<line x1="73.97" y1="249.10" x2="73.97" y2="259.82" stroke="#F23645" stroke-width="1.0" stroke-opacity="0.85"/>
<rect x="73.07" y="249.86" width="1.8" height="9.19" fill="#F23645"/>
<line x1="76.74" y1="258.28" x2="76.74" y2="262.88" stroke="#F23645" stroke-width="1.0" stroke-opacity="0.85"/>
<rect x="75.84" y="259.05" width="1.8" height="2.30" fill="#F23645"/>
<line x1="79.50" y1="257.52" x2="79.50" y2="260.58" stroke="#089981" stroke-width="1.0" stroke-opacity="0.85"/>
<rect x="78.60" y="257.98" width="1.8" height="2.14" fill="#089981"/>
<line x1="82.26" y1="254.00" x2="82.26" y2="258.59" stroke="#089981" stroke-width="1.0" stroke-opacity="0.85"/>
<rect x="81.36" y="254.46" width="1.8" height="3.83" fill="#089981"/>
<line x1="85.03" y1="251.39" x2="85.03" y2="254.46" stroke="#089981" stroke-width="1.0" stroke-opacity="0.85"/>
<rect x="84.13" y="252.16" width="1.8" height="1.53" fill="#089981"/>
<line x1="87.79" y1="252.47" x2="87.79" y2="258.59" stroke="#F23645" stroke-width="1.0" stroke-opacity="0.85"/>
<rect x="86.89" y="252.92" width="1.8" height="5.36" fill="#F23645"/>
<line x1="90.55" y1="257.52" x2="90.55" y2="266.71" stroke="#F23645" stroke-width="1.0" stroke-opacity="0.85"/>
<rect x="89.65" y="257.98" width="1.8" height="6.43" fill="#F23645"/>
<line x1="93.31" y1="257.98" x2="93.31" y2="265.64" stroke="#089981" stroke-width="1.0" stroke-opacity="0.85"/>
<rect x="92.41" y="258.28" width="1.8" height="6.89" fill="#089981"/>
<line x1="96.08" y1="258.28" x2="96.08" y2="261.04" stroke="#089981" stroke-width="1.0" stroke-opacity="0.85"/>
<rect x="95.18" y="259.05" width="1.8" height="1.53" fill="#089981"/>
<line x1="98.84" y1="252.47" x2="98.84" y2="260.12" stroke="#089981" stroke-width="1.0" stroke-opacity="0.85"/>
<rect x="97.94" y="252.92" width="1.8" height="6.89" fill="#089981"/>
<line x1="101.60" y1="252.16" x2="101.60" y2="259.51" stroke="#089981" stroke-width="1.0" stroke-opacity="0.85"/>
<rect x="100.70" y="252.62" width="1.8" height="6.43" fill="#089981"/>
<line x1="104.37" y1="247.87" x2="104.37" y2="252.92" stroke="#089981" stroke-width="1.0" stroke-opacity="0.85"/>
<rect x="103.47" y="248.33" width="1.8" height="4.29" fill="#089981"/>
<line x1="107.13" y1="246.03" x2="107.13" y2="250.93" stroke="#F23645" stroke-width="1.0" stroke-opacity="0.85"/>
<rect x="106.23" y="248.33" width="1.8" height="2.30" fill="#F23645"/>
<line x1="109.89" y1="250.32" x2="109.89" y2="257.98" stroke="#F23645" stroke-width="1.0" stroke-opacity="0.85"/>
<rect x="108.99" y="250.63" width="1.8" height="6.89" fill="#F23645"/>
<line x1="112.66" y1="256.75" x2="112.66" y2="262.88" stroke="#F23645" stroke-width="1.0" stroke-opacity="0.85"/>
<rect x="111.76" y="257.52" width="1.8" height="4.59" fill="#F23645"/>
<line x1="115.42" y1="261.65" x2="115.42" y2="266.40" stroke="#F23645" stroke-width="1.0" stroke-opacity="0.85"/>
<rect x="114.52" y="262.11" width="1.8" height="3.83" fill="#F23645"/>
<line x1="118.18" y1="263.19" x2="118.18" y2="265.94" stroke="#089981" stroke-width="1.0" stroke-opacity="0.85"/>
<rect x="117.28" y="263.64" width="1.8" height="1.99" fill="#089981"/>
<line x1="120.94" y1="255.22" x2="120.94" y2="265.18" stroke="#089981" stroke-width="1.0" stroke-opacity="0.85"/>
<rect x="120.04" y="260.12" width="1.8" height="4.29" fill="#089981"/>
<line x1="123.71" y1="260.12" x2="123.71" y2="268.70" stroke="#F23645" stroke-width="1.0" stroke-opacity="0.85"/>
<rect x="122.81" y="260.58" width="1.8" height="7.66" fill="#F23645"/>
<line x1="126.47" y1="266.71" x2="126.47" y2="272.07" stroke="#089981" stroke-width="1.0" stroke-opacity="0.85"/>
<rect x="125.57" y="267.47" width="1.8" height="1.53" fill="#089981"/>
<line x1="129.23" y1="267.78" x2="129.23" y2="271.00" stroke="#F23645" stroke-width="1.0" stroke-opacity="0.85"/>
<rect x="128.33" y="268.24" width="1.8" height="2.30" fill="#F23645"/>
<line x1="132.00" y1="269.31" x2="132.00" y2="275.44" stroke="#F23645" stroke-width="1.0" stroke-opacity="0.85"/>
<rect x="131.10" y="269.77" width="1.8" height="5.36" fill="#F23645"/>
<line x1="134.76" y1="273.91" x2="134.76" y2="279.42" stroke="#F23645" stroke-width="1.0" stroke-opacity="0.85"/>
<rect x="133.86" y="274.36" width="1.8" height="4.59" fill="#F23645"/>
<line x1="137.52" y1="277.89" x2="137.52" y2="288.91" stroke="#F23645" stroke-width="1.0" stroke-opacity="0.85"/>
<rect x="136.62" y="278.19" width="1.8" height="6.13" fill="#F23645"/>
<line x1="140.29" y1="271.30" x2="140.29" y2="285.54" stroke="#089981" stroke-width="1.0" stroke-opacity="0.85"/>
<rect x="139.39" y="272.07" width="1.8" height="13.02" fill="#089981"/>
<line x1="143.05" y1="269.77" x2="143.05" y2="272.83" stroke="#089981" stroke-width="1.0" stroke-opacity="0.85"/>
<rect x="142.15" y="270.54" width="1.8" height="1.53" fill="#089981"/>
<line x1="145.81" y1="270.23" x2="145.81" y2="276.97" stroke="#F23645" stroke-width="1.0" stroke-opacity="0.85"/>
<rect x="144.91" y="270.54" width="1.8" height="6.13" fill="#F23645"/>
<line x1="148.57" y1="275.13" x2="148.57" y2="280.95" stroke="#F23645" stroke-width="1.0" stroke-opacity="0.85"/>
<rect x="147.67" y="275.44" width="1.8" height="5.05" fill="#F23645"/>
<line x1="151.34" y1="276.97" x2="151.34" y2="280.18" stroke="#089981" stroke-width="1.0" stroke-opacity="0.85"/>
<rect x="150.44" y="277.43" width="1.8" height="2.30" fill="#089981"/>
<line x1="154.10" y1="276.97" x2="154.10" y2="279.42" stroke="#089981" stroke-width="1.0" stroke-opacity="0.85"/>
<rect x="153.20" y="277.43" width="1.8" height="1.53" fill="#089981"/>
<line x1="156.86" y1="275.13" x2="156.86" y2="278.96" stroke="#089981" stroke-width="1.0" stroke-opacity="0.85"/>
<rect x="155.96" y="276.36" width="1.8" height="1.84" fill="#089981"/>
<line x1="159.63" y1="275.44" x2="159.63" y2="279.42" stroke="#F23645" stroke-width="1.0" stroke-opacity="0.85"/>
<rect x="158.73" y="275.90" width="1.8" height="3.06" fill="#F23645"/>
<line x1="162.39" y1="276.66" x2="162.39" y2="287.38" stroke="#F23645" stroke-width="1.0" stroke-opacity="0.85"/>
<rect x="161.49" y="277.43" width="1.8" height="9.19" fill="#F23645"/>
<line x1="165.15" y1="276.97" x2="165.15" y2="287.08" stroke="#089981" stroke-width="1.0" stroke-opacity="0.85"/>
<rect x="164.25" y="277.43" width="1.8" height="9.19" fill="#089981"/>
<line x1="167.92" y1="271.30" x2="167.92" y2="278.19" stroke="#089981" stroke-width="1.0" stroke-opacity="0.85"/>
<rect x="167.02" y="272.83" width="1.8" height="4.59" fill="#089981"/>
<line x1="170.68" y1="273.29" x2="170.68" y2="278.65" stroke="#F23645" stroke-width="1.0" stroke-opacity="0.85"/>
<rect x="169.78" y="273.60" width="1.8" height="4.59" fill="#F23645"/>
<line x1="173.44" y1="276.97" x2="173.44" y2="279.42" stroke="#089981" stroke-width="1.0" stroke-opacity="0.85"/>
<rect x="172.54" y="277.43" width="1.8" height="1.53" fill="#089981"/>
<line x1="176.20" y1="268.24" x2="176.20" y2="278.96" stroke="#089981" stroke-width="1.0" stroke-opacity="0.85"/>
<rect x="175.30" y="269.00" width="1.8" height="9.19" fill="#089981"/>
<line x1="178.97" y1="268.24" x2="178.97" y2="271.45" stroke="#F23645" stroke-width="1.0" stroke-opacity="0.85"/>
<rect x="178.07" y="268.70" width="1.8" height="2.30" fill="#F23645"/>
<line x1="181.73" y1="262.88" x2="181.73" y2="271.76" stroke="#089981" stroke-width="1.0" stroke-opacity="0.85"/>
<rect x="180.83" y="263.64" width="1.8" height="7.66" fill="#089981"/>
<line x1="184.49" y1="236.85" x2="184.49" y2="264.41" stroke="#089981" stroke-width="1.0" stroke-opacity="0.85"/>
<rect x="183.59" y="242.97" width="1.8" height="20.67" fill="#089981"/>
<line x1="187.26" y1="230.70" x2="187.26" y2="244.50" stroke="#089981" stroke-width="1.0" stroke-opacity="0.85"/>
<rect x="186.36" y="233.00" width="1.8" height="10.70" fill="#089981"/>
<line x1="190.02" y1="165.30" x2="190.02" y2="234.00" stroke="#089981" stroke-width="1.0" stroke-opacity="0.85"/>
<rect x="189.12" y="192.80" width="1.8" height="40.20" fill="#089981"/>
<line x1="192.78" y1="153.00" x2="192.78" y2="199.00" stroke="#089981" stroke-width="1.0" stroke-opacity="0.85"/>
<rect x="191.88" y="170.60" width="1.8" height="23.00" fill="#089981"/>
<line x1="195.55" y1="108.00" x2="195.55" y2="171.00" stroke="#089981" stroke-width="1.0" stroke-opacity="0.85"/>
<rect x="194.65" y="116.80" width="1.8" height="53.10" fill="#089981"/>
<line x1="198.31" y1="85.40" x2="198.31" y2="138.00" stroke="#F23645" stroke-width="1.0" stroke-opacity="0.85"/>
<rect x="197.41" y="116.80" width="1.8" height="4.50" fill="#F23645"/>
<line x1="201.07" y1="114.50" x2="201.07" y2="144.30" stroke="#F23645" stroke-width="1.0" stroke-opacity="0.85"/>
<rect x="200.17" y="121.30" width="1.8" height="9.20" fill="#F23645"/>
<line x1="203.83" y1="109.90" x2="203.83" y2="132.00" stroke="#089981" stroke-width="1.0" stroke-opacity="0.85"/>
<rect x="202.93" y="129.00" width="1.8" height="2.30" fill="#089981"/>
<line x1="206.60" y1="86.10" x2="206.60" y2="134.40" stroke="#089981" stroke-width="1.0" stroke-opacity="0.85"/>
<rect x="205.70" y="98.40" width="1.8" height="31.40" fill="#089981"/>
<line x1="209.36" y1="82.30" x2="209.36" y2="131.30" stroke="#F23645" stroke-width="1.0" stroke-opacity="0.85"/>
<rect x="208.46" y="98.40" width="1.8" height="32.10" fill="#F23645"/>
<line x1="212.12" y1="117.50" x2="212.12" y2="130.50" stroke="#089981" stroke-width="1.0" stroke-opacity="0.85"/>
<rect x="211.22" y="123.60" width="1.8" height="1.60" fill="#089981"/>
<line x1="214.89" y1="112.20" x2="214.89" y2="126.70" stroke="#089981" stroke-width="1.0" stroke-opacity="0.85"/>
<rect x="213.99" y="122.90" width="1.8" height="1.50" fill="#089981"/>
<line x1="217.65" y1="100.70" x2="217.65" y2="123.60" stroke="#089981" stroke-width="1.0" stroke-opacity="0.85"/>
<rect x="216.75" y="115.20" width="1.8" height="7.70" fill="#089981"/>
<line x1="220.41" y1="112.90" x2="220.41" y2="132.10" stroke="#F23645" stroke-width="1.0" stroke-opacity="0.85"/>
<rect x="219.51" y="115.20" width="1.8" height="0.80" fill="#F23645"/>
<line x1="223.18" y1="115.20" x2="223.18" y2="160.00" stroke="#F23645" stroke-width="1.0" stroke-opacity="0.85"/>
<rect x="222.28" y="116.00" width="1.8" height="30.00" fill="#F23645"/>
<line x1="225.94" y1="140.00" x2="225.94" y2="163.00" stroke="#F23645" stroke-width="1.0" stroke-opacity="0.85"/>
<rect x="225.04" y="146.00" width="1.8" height="2.40" fill="#F23645"/>
<line x1="228.70" y1="143.50" x2="228.70" y2="161.00" stroke="#089981" stroke-width="1.0" stroke-opacity="0.85"/>
<rect x="227.80" y="143.80" width="1.8" height="5.40" fill="#089981"/>
<line x1="231.47" y1="133.60" x2="231.47" y2="145.80" stroke="#089981" stroke-width="1.0" stroke-opacity="0.85"/>
<rect x="230.56" y="141.50" width="1.8" height="2.30" fill="#089981"/>
<line x1="234.23" y1="124.40" x2="234.23" y2="142.00" stroke="#089981" stroke-width="1.0" stroke-opacity="0.85"/>
<rect x="233.33" y="135.10" width="1.8" height="6.20" fill="#089981"/>
<line x1="236.99" y1="129.00" x2="236.99" y2="156.80" stroke="#F23645" stroke-width="1.0" stroke-opacity="0.85"/>
<rect x="236.09" y="135.10" width="1.8" height="17.20" fill="#F23645"/>
<line x1="239.75" y1="142.30" x2="239.75" y2="157.60" stroke="#089981" stroke-width="1.0" stroke-opacity="0.85"/>
<rect x="238.85" y="151.50" width="1.8" height="5.30" fill="#089981"/>
<line x1="242.52" y1="150.70" x2="242.52" y2="170.00" stroke="#F23645" stroke-width="1.0" stroke-opacity="0.85"/>
<rect x="241.62" y="151.50" width="1.8" height="8.50" fill="#F23645"/>
<line x1="245.28" y1="146.10" x2="245.28" y2="166.00" stroke="#F23645" stroke-width="1.0" stroke-opacity="0.85"/>
<rect x="244.38" y="160.00" width="1.8" height="5.30" fill="#F23645"/>
<line x1="248.04" y1="163.00" x2="248.04" y2="182.10" stroke="#F23645" stroke-width="1.0" stroke-opacity="0.85"/>
<rect x="247.14" y="165.30" width="1.8" height="13.00" fill="#F23645"/>
<line x1="250.81" y1="172.20" x2="250.81" y2="192.10" stroke="#F23645" stroke-width="1.0" stroke-opacity="0.85"/>
<rect x="249.91" y="176.00" width="1.8" height="15.30" fill="#F23645"/>
<line x1="253.57" y1="166.00" x2="253.57" y2="191.30" stroke="#089981" stroke-width="1.0" stroke-opacity="0.85"/>
<rect x="252.67" y="166.80" width="1.8" height="23.70" fill="#089981"/>
<line x1="256.33" y1="149.20" x2="256.33" y2="167.60" stroke="#089981" stroke-width="1.0" stroke-opacity="0.85"/>
<rect x="255.43" y="156.00" width="1.8" height="10.80" fill="#089981"/>
<line x1="259.10" y1="153.68" x2="259.10" y2="170.54" stroke="#F23645" stroke-width="1.0" stroke-opacity="0.85"/>
<rect x="258.20" y="155.98" width="1.8" height="13.03" fill="#F23645"/>
<line x1="261.86" y1="165.17" x2="261.86" y2="175.90" stroke="#089981" stroke-width="1.0" stroke-opacity="0.85"/>
<rect x="260.96" y="167.47" width="1.8" height="2.30" fill="#089981"/>
<line x1="264.62" y1="137.59" x2="264.62" y2="168.24" stroke="#089981" stroke-width="1.0" stroke-opacity="0.85"/>
<rect x="263.72" y="138.35" width="1.8" height="29.12" fill="#089981"/>
<line x1="267.38" y1="118.43" x2="267.38" y2="139.89" stroke="#089981" stroke-width="1.0" stroke-opacity="0.85"/>
<rect x="266.48" y="129.92" width="1.8" height="9.20" fill="#089981"/>
<line x1="270.15" y1="126.09" x2="270.15" y2="133.75" stroke="#F23645" stroke-width="1.0" stroke-opacity="0.85"/>
<rect x="269.25" y="131.46" width="1.8" height="1.53" fill="#F23645"/>
<line x1="272.91" y1="126.86" x2="272.91" y2="142.18" stroke="#F23645" stroke-width="1.0" stroke-opacity="0.85"/>
<rect x="272.01" y="131.46" width="1.8" height="3.07" fill="#F23645"/>
<line x1="275.67" y1="123.79" x2="275.67" y2="146.02" stroke="#F23645" stroke-width="1.0" stroke-opacity="0.85"/>
<rect x="274.77" y="134.52" width="1.8" height="10.73" fill="#F23645"/>
<line x1="278.44" y1="127.62" x2="278.44" y2="146.02" stroke="#089981" stroke-width="1.0" stroke-opacity="0.85"/>
<rect x="277.54" y="132.22" width="1.8" height="13.03" fill="#089981"/>
<line x1="281.20" y1="124.56" x2="281.20" y2="137.59" stroke="#089981" stroke-width="1.0" stroke-opacity="0.85"/>
<rect x="280.30" y="129.92" width="1.8" height="2.30" fill="#089981"/>
<line x1="283.96" y1="116.90" x2="283.96" y2="158.28" stroke="#F23645" stroke-width="1.0" stroke-opacity="0.85"/>
<rect x="283.06" y="129.92" width="1.8" height="19.92" fill="#F23645"/>
<line x1="286.73" y1="143.72" x2="286.73" y2="157.51" stroke="#089981" stroke-width="1.0" stroke-opacity="0.85"/>
<rect x="285.83" y="144.48" width="1.8" height="5.36" fill="#089981"/>
<line x1="289.49" y1="142.95" x2="289.49" y2="149.08" stroke="#F23645" stroke-width="1.0" stroke-opacity="0.85"/>
<rect x="288.59" y="144.48" width="1.8" height="3.83" fill="#F23645"/>
<line x1="292.25" y1="142.18" x2="292.25" y2="149.08" stroke="#F23645" stroke-width="1.0" stroke-opacity="0.85"/>
<rect x="291.35" y="145.25" width="1.8" height="3.07" fill="#F23645"/>
<line x1="295.01" y1="148.31" x2="295.01" y2="156.74" stroke="#F23645" stroke-width="1.0" stroke-opacity="0.85"/>
<rect x="294.11" y="149.08" width="1.8" height="6.90" fill="#F23645"/>
<line x1="297.78" y1="153.68" x2="297.78" y2="173.60" stroke="#F23645" stroke-width="1.0" stroke-opacity="0.85"/>
<rect x="296.88" y="155.21" width="1.8" height="17.62" fill="#F23645"/>
<line x1="300.54" y1="161.34" x2="300.54" y2="173.14" stroke="#089981" stroke-width="1.0" stroke-opacity="0.85"/>
<rect x="299.64" y="162.11" width="1.8" height="10.73" fill="#089981"/>
<line x1="303.30" y1="161.34" x2="303.30" y2="173.60" stroke="#F23645" stroke-width="1.0" stroke-opacity="0.85"/>
<rect x="302.40" y="162.11" width="1.8" height="10.73" fill="#F23645"/>
<line x1="306.07" y1="146.02" x2="306.07" y2="178.20" stroke="#089981" stroke-width="1.0" stroke-opacity="0.85"/>
<rect x="305.17" y="148.31" width="1.8" height="22.99" fill="#089981"/>
<line x1="308.83" y1="148.31" x2="308.83" y2="155.21" stroke="#F23645" stroke-width="1.0" stroke-opacity="0.85"/>
<rect x="307.93" y="149.08" width="1.8" height="5.36" fill="#F23645"/>
<line x1="311.59" y1="149.08" x2="311.59" y2="161.34" stroke="#F23645" stroke-width="1.0" stroke-opacity="0.85"/>
<rect x="310.69" y="154.44" width="1.8" height="6.13" fill="#F23645"/>
<line x1="314.36" y1="158.43" x2="314.36" y2="181.42" stroke="#F23645" stroke-width="1.0" stroke-opacity="0.85"/>
<rect x="313.46" y="159.20" width="1.8" height="21.46" fill="#F23645"/>
<line x1="317.12" y1="168.39" x2="317.12" y2="177.59" stroke="#089981" stroke-width="1.0" stroke-opacity="0.85"/>
<rect x="316.22" y="169.16" width="1.8" height="7.66" fill="#089981"/>
<line x1="319.88" y1="168.39" x2="319.88" y2="181.42" stroke="#F23645" stroke-width="1.0" stroke-opacity="0.85"/>
<rect x="318.98" y="169.16" width="1.8" height="11.49" fill="#F23645"/>
<line x1="322.64" y1="176.82" x2="322.64" y2="180.65" stroke="#089981" stroke-width="1.0" stroke-opacity="0.85"/>
<rect x="321.74" y="177.59" width="1.8" height="2.30" fill="#089981"/>
<line x1="325.41" y1="177.59" x2="325.41" y2="196.74" stroke="#F23645" stroke-width="1.0" stroke-opacity="0.85"/>
<rect x="324.51" y="178.35" width="1.8" height="17.62" fill="#F23645"/>
<line x1="328.17" y1="190.61" x2="328.17" y2="199.04" stroke="#F23645" stroke-width="1.0" stroke-opacity="0.85"/>
<rect x="327.27" y="192.15" width="1.8" height="2.30" fill="#F23645"/>
<line x1="330.93" y1="189.85" x2="330.93" y2="199.04" stroke="#F23645" stroke-width="1.0" stroke-opacity="0.85"/>
<rect x="330.03" y="190.61" width="1.8" height="7.66" fill="#F23645"/>
<line x1="333.70" y1="191.38" x2="333.70" y2="203.64" stroke="#089981" stroke-width="1.0" stroke-opacity="0.85"/>
<rect x="332.80" y="194.44" width="1.8" height="3.83" fill="#089981"/>
<line x1="336.46" y1="187.55" x2="336.46" y2="196.74" stroke="#089981" stroke-width="1.0" stroke-opacity="0.85"/>
<rect x="335.56" y="188.31" width="1.8" height="7.66" fill="#089981"/>
<line x1="339.22" y1="186.78" x2="339.22" y2="192.91" stroke="#F23645" stroke-width="1.0" stroke-opacity="0.85"/>
<rect x="338.32" y="187.55" width="1.8" height="4.60" fill="#F23645"/>
<line x1="341.99" y1="190.61" x2="341.99" y2="199.81" stroke="#F23645" stroke-width="1.0" stroke-opacity="0.85"/>
<rect x="341.09" y="191.38" width="1.8" height="7.66" fill="#F23645"/>
<line x1="344.75" y1="187.55" x2="344.75" y2="199.81" stroke="#089981" stroke-width="1.0" stroke-opacity="0.85"/>
<rect x="343.85" y="193.68" width="1.8" height="5.36" fill="#089981"/>
<line x1="347.51" y1="192.91" x2="347.51" y2="197.51" stroke="#F23645" stroke-width="1.0" stroke-opacity="0.85"/>
<rect x="346.61" y="193.68" width="1.8" height="3.07" fill="#F23645"/>
<line x1="350.27" y1="189.85" x2="350.27" y2="197.51" stroke="#089981" stroke-width="1.0" stroke-opacity="0.85"/>
<rect x="349.37" y="190.61" width="1.8" height="6.13" fill="#089981"/>
<line x1="353.04" y1="176.82" x2="353.04" y2="193.68" stroke="#089981" stroke-width="1.0" stroke-opacity="0.85"/>
<rect x="352.14" y="180.65" width="1.8" height="12.26" fill="#089981"/>
<line x1="355.80" y1="178.35" x2="355.80" y2="186.02" stroke="#F23645" stroke-width="1.0" stroke-opacity="0.85"/>
<rect x="354.90" y="180.65" width="1.8" height="4.60" fill="#F23645"/>
<line x1="358.56" y1="176.05" x2="358.56" y2="186.02" stroke="#089981" stroke-width="1.0" stroke-opacity="0.85"/>
<rect x="357.66" y="177.59" width="1.8" height="7.66" fill="#089981"/>
<line x1="361.33" y1="167.62" x2="361.33" y2="178.35" stroke="#089981" stroke-width="1.0" stroke-opacity="0.85"/>
<rect x="360.43" y="168.39" width="1.8" height="9.20" fill="#089981"/>
<line x1="364.09" y1="161.49" x2="364.09" y2="169.16" stroke="#089981" stroke-width="1.0" stroke-opacity="0.85"/>
<rect x="363.19" y="162.26" width="1.8" height="6.13" fill="#089981"/>
<line x1="366.85" y1="156.13" x2="366.85" y2="166.09" stroke="#089981" stroke-width="1.0" stroke-opacity="0.85"/>
<rect x="365.95" y="161.49" width="1.8" height="3.83" fill="#089981"/>
<line x1="369.62" y1="161.49" x2="369.62" y2="173.75" stroke="#F23645" stroke-width="1.0" stroke-opacity="0.85"/>
<rect x="368.72" y="162.26" width="1.8" height="10.73" fill="#F23645"/>
<line x1="372.38" y1="168.39" x2="372.38" y2="183.72" stroke="#F23645" stroke-width="1.0" stroke-opacity="0.85"/>
<rect x="371.48" y="169.16" width="1.8" height="13.79" fill="#F23645"/>
<line x1="375.14" y1="176.05" x2="375.14" y2="180.65" stroke="#089981" stroke-width="1.0" stroke-opacity="0.85"/>
<rect x="374.24" y="176.82" width="1.8" height="3.07" fill="#089981"/>
<line x1="377.90" y1="167.62" x2="377.90" y2="179.89" stroke="#089981" stroke-width="1.0" stroke-opacity="0.85"/>
<rect x="377.00" y="168.39" width="1.8" height="10.73" fill="#089981"/>
<line x1="380.67" y1="162.26" x2="380.67" y2="170.69" stroke="#089981" stroke-width="1.0" stroke-opacity="0.85"/>
<rect x="379.77" y="165.33" width="1.8" height="3.07" fill="#089981"/>
<line x1="383.43" y1="165.33" x2="383.43" y2="175.29" stroke="#F23645" stroke-width="1.0" stroke-opacity="0.85"/>
<rect x="382.53" y="166.86" width="1.8" height="7.66" fill="#F23645"/>
<line x1="386.19" y1="169.92" x2="386.19" y2="176.05" stroke="#F23645" stroke-width="1.0" stroke-opacity="0.85"/>
<rect x="385.29" y="173.75" width="1.8" height="1.53" fill="#F23645"/>
<line x1="388.96" y1="172.22" x2="388.96" y2="180.65" stroke="#F23645" stroke-width="1.0" stroke-opacity="0.85"/>
<rect x="388.06" y="172.99" width="1.8" height="6.90" fill="#F23645"/>
<line x1="391.72" y1="179.12" x2="391.72" y2="204.41" stroke="#F23645" stroke-width="1.0" stroke-opacity="0.85"/>
<rect x="390.82" y="179.89" width="1.8" height="7.66" fill="#F23645"/>
<line x1="394.48" y1="186.78" x2="394.48" y2="192.91" stroke="#F23645" stroke-width="1.0" stroke-opacity="0.85"/>
<rect x="393.58" y="187.55" width="1.8" height="3.83" fill="#F23645"/>
<line x1="397.25" y1="179.12" x2="397.25" y2="191.38" stroke="#089981" stroke-width="1.0" stroke-opacity="0.85"/>
<rect x="396.35" y="182.95" width="1.8" height="7.66" fill="#089981"/>
<line x1="400.01" y1="182.18" x2="400.01" y2="202.11" stroke="#F23645" stroke-width="1.0" stroke-opacity="0.85"/>
<rect x="399.11" y="182.95" width="1.8" height="17.62" fill="#F23645"/>
<line x1="402.77" y1="190.61" x2="402.77" y2="202.11" stroke="#089981" stroke-width="1.0" stroke-opacity="0.85"/>
<rect x="401.87" y="191.38" width="1.8" height="8.43" fill="#089981"/>
<line x1="405.53" y1="190.61" x2="405.53" y2="195.98" stroke="#F23645" stroke-width="1.0" stroke-opacity="0.85"/>
<rect x="404.63" y="191.38" width="1.8" height="3.83" fill="#F23645"/>
<line x1="408.30" y1="186.78" x2="408.30" y2="195.21" stroke="#089981" stroke-width="1.0" stroke-opacity="0.85"/>
<rect x="407.40" y="187.55" width="1.8" height="6.90" fill="#089981"/>
<line x1="411.06" y1="184.48" x2="411.06" y2="188.31" stroke="#089981" stroke-width="1.0" stroke-opacity="0.85"/>
<rect x="410.16" y="185.25" width="1.8" height="2.30" fill="#089981"/>
<line x1="413.82" y1="183.72" x2="413.82" y2="194.44" stroke="#F23645" stroke-width="1.0" stroke-opacity="0.85"/>
<rect x="412.92" y="184.48" width="1.8" height="6.13" fill="#F23645"/>
<line x1="416.59" y1="167.62" x2="416.59" y2="192.15" stroke="#089981" stroke-width="1.0" stroke-opacity="0.85"/>
<rect x="415.69" y="168.39" width="1.8" height="22.99" fill="#089981"/>
<line x1="419.35" y1="156.13" x2="419.35" y2="169.16" stroke="#089981" stroke-width="1.0" stroke-opacity="0.85"/>
<rect x="418.45" y="159.96" width="1.8" height="8.43" fill="#089981"/>
<line x1="422.11" y1="159.20" x2="422.11" y2="163.79" stroke="#F23645" stroke-width="1.0" stroke-opacity="0.85"/>
<rect x="421.21" y="159.96" width="1.8" height="2.30" fill="#F23645"/>
<line x1="424.88" y1="160.73" x2="424.88" y2="173.75" stroke="#F23645" stroke-width="1.0" stroke-opacity="0.85"/>
<rect x="423.98" y="161.49" width="1.8" height="11.49" fill="#F23645"/>
<line x1="427.64" y1="159.20" x2="427.64" y2="170.69" stroke="#089981" stroke-width="1.0" stroke-opacity="0.85"/>
<rect x="426.74" y="161.49" width="1.8" height="8.43" fill="#089981"/>
<line x1="430.40" y1="156.13" x2="430.40" y2="169.92" stroke="#089981" stroke-width="1.0" stroke-opacity="0.85"/>
<rect x="429.50" y="157.66" width="1.8" height="11.49" fill="#089981"/>
<line x1="433.16" y1="159.20" x2="433.16" y2="177.59" stroke="#F23645" stroke-width="1.0" stroke-opacity="0.85"/>
<rect x="432.26" y="159.96" width="1.8" height="16.86" fill="#F23645"/>
<line x1="435.93" y1="171.46" x2="435.93" y2="179.89" stroke="#089981" stroke-width="1.0" stroke-opacity="0.85"/>
<rect x="435.03" y="173.75" width="1.8" height="4.60" fill="#089981"/>
<line x1="438.69" y1="173.75" x2="438.69" y2="184.48" stroke="#F23645" stroke-width="1.0" stroke-opacity="0.85"/>
<rect x="437.79" y="174.52" width="1.8" height="5.36" fill="#F23645"/>
<line x1="441.45" y1="175.00" x2="441.45" y2="331.50" stroke="#F23645" stroke-width="1.0" stroke-opacity="0.85"/>
<rect x="440.55" y="179.10" width="1.8" height="42.30" fill="#F23645"/>
<line x1="444.22" y1="207.62" x2="444.22" y2="228.31" stroke="#089981" stroke-width="1.0" stroke-opacity="0.85"/>
<rect x="443.32" y="219.12" width="1.8" height="3.07" fill="#089981"/>
<line x1="446.98" y1="199.96" x2="446.98" y2="225.25" stroke="#089981" stroke-width="1.0" stroke-opacity="0.85"/>
<rect x="446.08" y="205.33" width="1.8" height="14.56" fill="#089981"/>
<line x1="449.74" y1="196.90" x2="449.74" y2="207.62" stroke="#089981" stroke-width="1.0" stroke-opacity="0.85"/>
<rect x="448.84" y="199.20" width="1.8" height="7.66" fill="#089981"/>
<line x1="452.50" y1="198.43" x2="452.50" y2="220.65" stroke="#F23645" stroke-width="1.0" stroke-opacity="0.85"/>
<rect x="451.61" y="199.20" width="1.8" height="9.96" fill="#F23645"/>
<line x1="455.27" y1="207.62" x2="455.27" y2="221.42" stroke="#F23645" stroke-width="1.0" stroke-opacity="0.85"/>
<rect x="454.37" y="208.39" width="1.8" height="12.26" fill="#F23645"/>
<line x1="458.03" y1="217.59" x2="458.03" y2="229.85" stroke="#F23645" stroke-width="1.0" stroke-opacity="0.85"/>
<rect x="457.13" y="218.35" width="1.8" height="8.43" fill="#F23645"/>
<line x1="460.79" y1="225.25" x2="460.79" y2="241.34" stroke="#F23645" stroke-width="1.0" stroke-opacity="0.85"/>
<rect x="459.89" y="226.02" width="1.8" height="2.30" fill="#F23645"/>
<line x1="463.56" y1="223.72" x2="463.56" y2="229.85" stroke="#089981" stroke-width="1.0" stroke-opacity="0.85"/>
<rect x="462.66" y="224.48" width="1.8" height="4.60" fill="#089981"/>
<line x1="466.32" y1="220.65" x2="466.32" y2="229.85" stroke="#089981" stroke-width="1.0" stroke-opacity="0.85"/>
<rect x="465.42" y="221.42" width="1.8" height="6.90" fill="#089981"/>
<line x1="469.08" y1="212.22" x2="469.08" y2="223.72" stroke="#089981" stroke-width="1.0" stroke-opacity="0.85"/>
<rect x="468.18" y="216.82" width="1.8" height="6.13" fill="#089981"/>
<line x1="471.85" y1="212.22" x2="471.85" y2="226.78" stroke="#F23645" stroke-width="1.0" stroke-opacity="0.85"/>
<rect x="470.95" y="216.82" width="1.8" height="9.20" fill="#F23645"/>
<line x1="474.61" y1="223.72" x2="474.61" y2="232.91" stroke="#F23645" stroke-width="1.0" stroke-opacity="0.85"/>
<rect x="473.71" y="224.48" width="1.8" height="4.60" fill="#F23645"/>
<line x1="477.37" y1="224.48" x2="477.37" y2="230.15" stroke="#089981" stroke-width="1.0" stroke-opacity="0.85"/>
<rect x="476.47" y="226.02" width="1.8" height="3.83" fill="#089981"/>
<line x1="480.13" y1="217.59" x2="480.13" y2="228.31" stroke="#089981" stroke-width="1.0" stroke-opacity="0.85"/>
<rect x="479.24" y="220.65" width="1.8" height="6.90" fill="#089981"/>
<line x1="482.90" y1="213.75" x2="482.90" y2="222.18" stroke="#089981" stroke-width="1.0" stroke-opacity="0.85"/>
<rect x="482.00" y="214.52" width="1.8" height="6.90" fill="#089981"/>
<line x1="485.66" y1="212.22" x2="485.66" y2="219.12" stroke="#089981" stroke-width="1.0" stroke-opacity="0.85"/>
<rect x="484.76" y="212.99" width="1.8" height="5.36" fill="#089981"/>
<line x1="488.42" y1="210.69" x2="488.42" y2="219.89" stroke="#F23645" stroke-width="1.0" stroke-opacity="0.85"/>
<rect x="487.52" y="211.46" width="1.8" height="7.66" fill="#F23645"/>
<line x1="491.19" y1="208.39" x2="491.19" y2="223.72" stroke="#F23645" stroke-width="1.0" stroke-opacity="0.85"/>
<rect x="490.29" y="218.35" width="1.8" height="4.60" fill="#F23645"/>
<line x1="493.95" y1="221.42" x2="493.95" y2="227.55" stroke="#F23645" stroke-width="1.0" stroke-opacity="0.85"/>
<rect x="493.05" y="222.18" width="1.8" height="3.07" fill="#F23645"/>
<line x1="496.71" y1="222.95" x2="496.71" y2="240.57" stroke="#F23645" stroke-width="1.0" stroke-opacity="0.85"/>
<rect x="495.81" y="223.72" width="1.8" height="13.03" fill="#F23645"/>
<line x1="499.48" y1="226.02" x2="499.48" y2="237.51" stroke="#089981" stroke-width="1.0" stroke-opacity="0.85"/>
<rect x="498.58" y="230.61" width="1.8" height="6.13" fill="#089981"/>
<line x1="502.24" y1="229.85" x2="502.24" y2="232.91" stroke="#089981" stroke-width="1.0" stroke-opacity="0.85"/>
<rect x="501.34" y="230.61" width="1.8" height="1.53" fill="#089981"/>
<line x1="505.00" y1="229.08" x2="505.00" y2="235.21" stroke="#089981" stroke-width="1.0" stroke-opacity="0.85"/>
<rect x="504.10" y="230.61" width="1.8" height="1.53" fill="#089981"/>
<line x1="507.76" y1="230.61" x2="507.76" y2="251.30" stroke="#F23645" stroke-width="1.0" stroke-opacity="0.85"/>
<rect x="506.87" y="231.38" width="1.8" height="19.16" fill="#F23645"/>
<line x1="510.53" y1="249.77" x2="510.53" y2="260.50" stroke="#F23645" stroke-width="1.0" stroke-opacity="0.85"/>
<rect x="509.63" y="250.54" width="1.8" height="5.36" fill="#F23645"/>
<line x1="513.29" y1="247.47" x2="513.29" y2="261.26" stroke="#089981" stroke-width="1.0" stroke-opacity="0.85"/>
<rect x="512.39" y="248.24" width="1.8" height="9.20" fill="#089981"/>
<line x1="516.05" y1="246.70" x2="516.05" y2="258.20" stroke="#F23645" stroke-width="1.0" stroke-opacity="0.85"/>
<rect x="515.15" y="248.24" width="1.8" height="9.20" fill="#F23645"/>
<line x1="518.82" y1="239.81" x2="518.82" y2="257.43" stroke="#089981" stroke-width="1.0" stroke-opacity="0.85"/>
<rect x="517.92" y="240.57" width="1.8" height="16.09" fill="#089981"/>
<line x1="521.58" y1="238.28" x2="521.58" y2="247.47" stroke="#F23645" stroke-width="1.0" stroke-opacity="0.85"/>
<rect x="520.68" y="240.57" width="1.8" height="6.13" fill="#F23645"/>
<line x1="524.34" y1="242.87" x2="524.34" y2="253.60" stroke="#089981" stroke-width="1.0" stroke-opacity="0.85"/>
<rect x="523.44" y="244.41" width="1.8" height="4.60" fill="#089981"/>
<line x1="527.11" y1="227.55" x2="527.11" y2="245.94" stroke="#089981" stroke-width="1.0" stroke-opacity="0.85"/>
<rect x="526.21" y="234.44" width="1.8" height="10.73" fill="#089981"/>
<line x1="529.87" y1="231.38" x2="529.87" y2="249.00" stroke="#F23645" stroke-width="1.0" stroke-opacity="0.85"/>
<rect x="528.97" y="234.44" width="1.8" height="13.79" fill="#F23645"/>
<line x1="532.63" y1="246.70" x2="532.63" y2="252.07" stroke="#F23645" stroke-width="1.0" stroke-opacity="0.85"/>
<rect x="531.73" y="247.47" width="1.8" height="3.07" fill="#F23645"/>
<line x1="535.39" y1="240.00" x2="535.39" y2="260.69" stroke="#F23645" stroke-width="1.0" stroke-opacity="0.85"/>
<rect x="534.50" y="249.96" width="1.8" height="9.96" fill="#F23645"/>
<line x1="538.16" y1="255.33" x2="538.16" y2="263.75" stroke="#F23645" stroke-width="1.0" stroke-opacity="0.85"/>
<rect x="537.26" y="256.09" width="1.8" height="6.90" fill="#F23645"/>
<line x1="540.92" y1="257.62" x2="540.92" y2="264.52" stroke="#089981" stroke-width="1.0" stroke-opacity="0.85"/>
<rect x="540.02" y="258.39" width="1.8" height="3.83" fill="#089981"/>
<line x1="543.68" y1="261.46" x2="543.68" y2="270.65" stroke="#F23645" stroke-width="1.0" stroke-opacity="0.85"/>
<rect x="542.78" y="262.99" width="1.8" height="6.90" fill="#F23645"/>
<line x1="546.45" y1="261.46" x2="546.45" y2="272.95" stroke="#F23645" stroke-width="1.0" stroke-opacity="0.85"/>
<rect x="545.55" y="264.52" width="1.8" height="7.66" fill="#F23645"/>
<line x1="549.21" y1="261.46" x2="549.21" y2="274.48" stroke="#089981" stroke-width="1.0" stroke-opacity="0.85"/>
<rect x="548.31" y="264.52" width="1.8" height="7.66" fill="#089981"/>
<line x1="551.97" y1="264.52" x2="551.97" y2="279.08" stroke="#F23645" stroke-width="1.0" stroke-opacity="0.85"/>
<rect x="551.07" y="265.29" width="1.8" height="7.66" fill="#F23645"/>
<line x1="554.74" y1="271.42" x2="554.74" y2="279.85" stroke="#F23645" stroke-width="1.0" stroke-opacity="0.85"/>
<rect x="553.84" y="272.18" width="1.8" height="6.13" fill="#F23645"/>
<line x1="557.50" y1="277.55" x2="557.50" y2="291.34" stroke="#F23645" stroke-width="1.0" stroke-opacity="0.85"/>
<rect x="556.60" y="278.31" width="1.8" height="4.60" fill="#F23645"/>
<line x1="560.26" y1="280.61" x2="560.26" y2="285.21" stroke="#F23645" stroke-width="1.0" stroke-opacity="0.85"/>
<rect x="559.36" y="281.38" width="1.8" height="3.07" fill="#F23645"/>
<line x1="563.02" y1="270.65" x2="563.02" y2="284.44" stroke="#089981" stroke-width="1.0" stroke-opacity="0.85"/>
<rect x="562.12" y="271.42" width="1.8" height="12.26" fill="#089981"/>
<line x1="565.79" y1="262.22" x2="565.79" y2="275.25" stroke="#089981" stroke-width="1.0" stroke-opacity="0.85"/>
<rect x="564.89" y="266.05" width="1.8" height="6.13" fill="#089981"/>
<line x1="568.55" y1="262.22" x2="568.55" y2="275.25" stroke="#F23645" stroke-width="1.0" stroke-opacity="0.85"/>
<rect x="567.65" y="266.05" width="1.8" height="3.07" fill="#F23645"/>
<line x1="571.31" y1="261.46" x2="571.31" y2="269.12" stroke="#089981" stroke-width="1.0" stroke-opacity="0.85"/>
<rect x="570.41" y="262.22" width="1.8" height="6.13" fill="#089981"/>
<line x1="574.08" y1="262.22" x2="574.08" y2="266.82" stroke="#F23645" stroke-width="1.0" stroke-opacity="0.85"/>
<rect x="573.18" y="262.99" width="1.8" height="3.07" fill="#F23645"/>
<line x1="576.84" y1="260.69" x2="576.84" y2="267.59" stroke="#F23645" stroke-width="1.0" stroke-opacity="0.85"/>
<rect x="575.94" y="262.99" width="1.8" height="2.30" fill="#F23645"/>
<line x1="579.60" y1="262.99" x2="579.60" y2="269.89" stroke="#089981" stroke-width="1.0" stroke-opacity="0.85"/>
<rect x="578.70" y="264.52" width="1.8" height="3.83" fill="#089981"/>
<line x1="582.37" y1="265.29" x2="582.37" y2="272.18" stroke="#F23645" stroke-width="1.0" stroke-opacity="0.85"/>
<rect x="581.47" y="266.05" width="1.8" height="5.36" fill="#F23645"/>
<line x1="585.13" y1="269.89" x2="585.13" y2="285.98" stroke="#F23645" stroke-width="1.0" stroke-opacity="0.85"/>
<rect x="584.23" y="271.42" width="1.8" height="9.96" fill="#F23645"/>
<line x1="587.89" y1="264.52" x2="587.89" y2="283.68" stroke="#089981" stroke-width="1.0" stroke-opacity="0.85"/>
<rect x="586.99" y="265.29" width="1.8" height="16.09" fill="#089981"/>
<line x1="590.65" y1="259.92" x2="590.65" y2="267.59" stroke="#089981" stroke-width="1.0" stroke-opacity="0.85"/>
<rect x="589.75" y="263.75" width="1.8" height="3.07" fill="#089981"/>
<line x1="593.42" y1="262.99" x2="593.42" y2="269.89" stroke="#F23645" stroke-width="1.0" stroke-opacity="0.85"/>
<rect x="592.52" y="263.75" width="1.8" height="4.60" fill="#F23645"/>
<line x1="596.18" y1="266.82" x2="596.18" y2="277.55" stroke="#F23645" stroke-width="1.0" stroke-opacity="0.85"/>
<rect x="595.28" y="267.59" width="1.8" height="9.20" fill="#F23645"/>
<line x1="598.94" y1="274.48" x2="598.94" y2="278.31" stroke="#F23645" stroke-width="1.0" stroke-opacity="0.85"/>
<rect x="598.04" y="275.25" width="1.8" height="2.30" fill="#F23645"/>
<line x1="601.71" y1="275.25" x2="601.71" y2="282.15" stroke="#F23645" stroke-width="1.0" stroke-opacity="0.85"/>
<rect x="600.81" y="276.02" width="1.8" height="3.83" fill="#F23645"/>
<line x1="604.47" y1="273.72" x2="604.47" y2="279.08" stroke="#089981" stroke-width="1.0" stroke-opacity="0.85"/>
<rect x="603.57" y="274.48" width="1.8" height="3.83" fill="#089981"/>
<line x1="607.23" y1="264.52" x2="607.23" y2="277.55" stroke="#089981" stroke-width="1.0" stroke-opacity="0.85"/>
<rect x="606.33" y="266.82" width="1.8" height="9.96" fill="#089981"/>
<line x1="610.00" y1="235.00" x2="610.00" y2="270.65" stroke="#F23645" stroke-width="1.0" stroke-opacity="0.85"/>
<rect x="609.10" y="266.05" width="1.8" height="3.83" fill="#F23645"/>
<line x1="612.76" y1="269.12" x2="612.76" y2="276.78" stroke="#F23645" stroke-width="1.0" stroke-opacity="0.85"/>
<rect x="611.86" y="269.89" width="1.8" height="3.07" fill="#F23645"/>
<line x1="615.52" y1="271.42" x2="615.52" y2="279.08" stroke="#F23645" stroke-width="1.0" stroke-opacity="0.85"/>
<rect x="614.62" y="272.18" width="1.8" height="5.36" fill="#F23645"/>
<line x1="618.28" y1="276.02" x2="618.28" y2="280.61" stroke="#F23645" stroke-width="1.0" stroke-opacity="0.85"/>
<rect x="617.38" y="276.78" width="1.8" height="2.30" fill="#F23645"/>
<line x1="621.05" y1="277.55" x2="621.05" y2="285.21" stroke="#F23645" stroke-width="1.0" stroke-opacity="0.85"/>
<rect x="620.15" y="278.31" width="1.8" height="6.13" fill="#F23645"/>
<line x1="623.81" y1="282.91" x2="623.81" y2="292.87" stroke="#F23645" stroke-width="1.0" stroke-opacity="0.85"/>
<rect x="622.91" y="283.68" width="1.8" height="8.43" fill="#F23645"/>
<line x1="626.57" y1="288.28" x2="626.57" y2="292.11" stroke="#F23645" stroke-width="1.0" stroke-opacity="0.85"/>
<rect x="625.67" y="289.81" width="1.8" height="1.53" fill="#F23645"/>
<line x1="629.34" y1="289.81" x2="629.34" y2="298.24" stroke="#F23645" stroke-width="1.0" stroke-opacity="0.85"/>
<rect x="628.44" y="290.57" width="1.8" height="6.90" fill="#F23645"/>
<line x1="632.10" y1="295.94" x2="632.10" y2="301.30" stroke="#F23645" stroke-width="1.0" stroke-opacity="0.85"/>
<rect x="631.20" y="296.70" width="1.8" height="3.07" fill="#F23645"/>
<line x1="634.86" y1="289.04" x2="634.86" y2="300.54" stroke="#089981" stroke-width="1.0" stroke-opacity="0.85"/>
<rect x="633.96" y="290.57" width="1.8" height="9.20" fill="#089981"/>
<line x1="637.63" y1="289.04" x2="637.63" y2="299.00" stroke="#F23645" stroke-width="1.0" stroke-opacity="0.85"/>
<rect x="636.73" y="290.57" width="1.8" height="2.30" fill="#F23645"/>
<line x1="640.39" y1="290.25" x2="640.39" y2="294.08" stroke="#F23645" stroke-width="1.0" stroke-opacity="0.85"/>
<rect x="639.49" y="291.02" width="1.8" height="2.30" fill="#F23645"/>
<line x1="643.15" y1="286.42" x2="643.15" y2="294.08" stroke="#089981" stroke-width="1.0" stroke-opacity="0.85"/>
<rect x="642.25" y="290.25" width="1.8" height="3.07" fill="#089981"/>
<line x1="645.91" y1="289.48" x2="645.91" y2="294.08" stroke="#F23645" stroke-width="1.0" stroke-opacity="0.85"/>
<rect x="645.01" y="289.94" width="1.8" height="3.37" fill="#F23645"/>
<line x1="648.68" y1="291.02" x2="648.68" y2="296.38" stroke="#F23645" stroke-width="1.0" stroke-opacity="0.85"/>
<rect x="647.78" y="291.78" width="1.8" height="3.83" fill="#F23645"/>
<line x1="651.44" y1="292.55" x2="651.44" y2="297.91" stroke="#F23645" stroke-width="1.0" stroke-opacity="0.85"/>
<rect x="650.54" y="293.31" width="1.8" height="3.83" fill="#F23645"/>
<line x1="654.20" y1="292.55" x2="654.20" y2="297.91" stroke="#089981" stroke-width="1.0" stroke-opacity="0.85"/>
<rect x="653.30" y="294.08" width="1.8" height="3.07" fill="#089981"/>
<line x1="656.97" y1="289.48" x2="656.97" y2="295.15" stroke="#089981" stroke-width="1.0" stroke-opacity="0.85"/>
<rect x="656.07" y="289.94" width="1.8" height="4.90" fill="#089981"/>
<line x1="659.73" y1="289.48" x2="659.73" y2="291.78" stroke="#F23645" stroke-width="1.0" stroke-opacity="0.85"/>
<rect x="658.83" y="289.94" width="1.8" height="1.07" fill="#F23645"/>
<line x1="662.49" y1="284.89" x2="662.49" y2="294.08" stroke="#F23645" stroke-width="1.0" stroke-opacity="0.85"/>
<rect x="661.59" y="289.48" width="1.8" height="3.83" fill="#F23645"/>
<line x1="665.26" y1="291.78" x2="665.26" y2="297.91" stroke="#F23645" stroke-width="1.0" stroke-opacity="0.85"/>
<rect x="664.36" y="292.55" width="1.8" height="4.60" fill="#F23645"/>
<line x1="668.02" y1="296.38" x2="668.02" y2="304.81" stroke="#F23645" stroke-width="1.0" stroke-opacity="0.85"/>
<rect x="667.12" y="297.15" width="1.8" height="6.13" fill="#F23645"/>
<line x1="670.78" y1="297.15" x2="670.78" y2="303.74" stroke="#089981" stroke-width="1.0" stroke-opacity="0.85"/>
<rect x="669.88" y="297.91" width="1.8" height="5.36" fill="#089981"/>
<line x1="673.54" y1="289.48" x2="673.54" y2="299.75" stroke="#089981" stroke-width="1.0" stroke-opacity="0.85"/>
<rect x="672.64" y="290.25" width="1.8" height="9.20" fill="#089981"/>
<line x1="676.31" y1="284.89" x2="676.31" y2="291.78" stroke="#089981" stroke-width="1.0" stroke-opacity="0.85"/>
<rect x="675.41" y="285.65" width="1.8" height="5.36" fill="#089981"/>
<line x1="679.07" y1="279.52" x2="679.07" y2="288.72" stroke="#089981" stroke-width="1.0" stroke-opacity="0.85"/>
<rect x="678.17" y="280.29" width="1.8" height="7.66" fill="#089981"/>
<line x1="681.83" y1="266.49" x2="681.83" y2="282.59" stroke="#089981" stroke-width="1.0" stroke-opacity="0.85"/>
<rect x="680.93" y="267.26" width="1.8" height="14.56" fill="#089981"/>
<line x1="684.60" y1="266.49" x2="684.60" y2="280.29" stroke="#F23645" stroke-width="1.0" stroke-opacity="0.85"/>
<rect x="683.70" y="267.26" width="1.8" height="6.90" fill="#F23645"/>
<line x1="687.36" y1="273.39" x2="687.36" y2="281.05" stroke="#F23645" stroke-width="1.0" stroke-opacity="0.85"/>
<rect x="686.46" y="274.16" width="1.8" height="6.13" fill="#F23645"/>
<line x1="690.12" y1="279.52" x2="690.12" y2="284.12" stroke="#F23645" stroke-width="1.0" stroke-opacity="0.85"/>
<rect x="689.22" y="280.29" width="1.8" height="3.07" fill="#F23645"/>
<line x1="692.89" y1="281.05" x2="692.89" y2="285.65" stroke="#F23645" stroke-width="1.0" stroke-opacity="0.85"/>
<rect x="691.99" y="281.82" width="1.8" height="3.07" fill="#F23645"/>
<line x1="695.65" y1="283.35" x2="695.65" y2="285.65" stroke="#F23645" stroke-width="1.0" stroke-opacity="0.85"/>
<rect x="694.75" y="284.12" width="1.8" height="0.80" fill="#F23645"/>
<line x1="698.41" y1="283.35" x2="698.41" y2="288.72" stroke="#F23645" stroke-width="1.0" stroke-opacity="0.85"/>
<rect x="697.51" y="284.12" width="1.8" height="3.83" fill="#F23645"/>
<line x1="701.17" y1="284.89" x2="701.17" y2="291.78" stroke="#F23645" stroke-width="1.0" stroke-opacity="0.85"/>
<rect x="700.27" y="286.42" width="1.8" height="4.60" fill="#F23645"/>
<line x1="703.94" y1="274.92" x2="703.94" y2="291.78" stroke="#089981" stroke-width="1.0" stroke-opacity="0.85"/>
<rect x="703.04" y="275.69" width="1.8" height="15.33" fill="#089981"/>
<line x1="706.70" y1="271.09" x2="706.70" y2="279.52" stroke="#F23645" stroke-width="1.0" stroke-opacity="0.85"/>
<rect x="705.80" y="277.22" width="1.8" height="1.53" fill="#F23645"/>
<line x1="709.46" y1="277.99" x2="709.46" y2="286.42" stroke="#F23645" stroke-width="1.0" stroke-opacity="0.85"/>
<rect x="708.56" y="278.75" width="1.8" height="6.13" fill="#F23645"/>
<line x1="712.23" y1="283.35" x2="712.23" y2="290.25" stroke="#F23645" stroke-width="1.0" stroke-opacity="0.85"/>
<rect x="711.33" y="284.12" width="1.8" height="1.53" fill="#F23645"/>
<line x1="714.99" y1="277.22" x2="714.99" y2="286.42" stroke="#089981" stroke-width="1.0" stroke-opacity="0.85"/>
<rect x="714.09" y="282.59" width="1.8" height="3.07" fill="#089981"/>
<line x1="717.75" y1="281.82" x2="717.75" y2="292.55" stroke="#F23645" stroke-width="1.0" stroke-opacity="0.85"/>
<rect x="716.85" y="282.59" width="1.8" height="9.20" fill="#F23645"/>
<line x1="720.52" y1="290.25" x2="720.52" y2="301.74" stroke="#F23645" stroke-width="1.0" stroke-opacity="0.85"/>
<rect x="719.62" y="291.02" width="1.8" height="3.07" fill="#F23645"/>
<line x1="723.28" y1="292.55" x2="723.28" y2="300.21" stroke="#F23645" stroke-width="1.0" stroke-opacity="0.85"/>
<rect x="722.38" y="293.31" width="1.8" height="6.13" fill="#F23645"/>
<line x1="726.04" y1="292.55" x2="726.04" y2="300.21" stroke="#089981" stroke-width="1.0" stroke-opacity="0.85"/>
<rect x="725.14" y="296.38" width="1.8" height="3.07" fill="#089981"/>
<line x1="728.80" y1="294.85" x2="728.80" y2="297.91" stroke="#089981" stroke-width="1.0" stroke-opacity="0.85"/>
<rect x="727.90" y="295.61" width="1.8" height="1.53" fill="#089981"/>
<line x1="731.57" y1="291.02" x2="731.57" y2="297.91" stroke="#089981" stroke-width="1.0" stroke-opacity="0.85"/>
<rect x="730.67" y="294.85" width="1.8" height="1.53" fill="#089981"/>
<line x1="734.33" y1="294.85" x2="734.33" y2="297.91" stroke="#F23645" stroke-width="1.0" stroke-opacity="0.85"/>
<rect x="733.43" y="295.61" width="1.8" height="1.53" fill="#F23645"/>
<line x1="737.09" y1="295.61" x2="737.09" y2="303.28" stroke="#F23645" stroke-width="1.0" stroke-opacity="0.85"/>
<rect x="736.19" y="296.07" width="1.8" height="6.74" fill="#F23645"/>
<line x1="739.86" y1="295.61" x2="739.86" y2="303.28" stroke="#089981" stroke-width="1.0" stroke-opacity="0.85"/>
<rect x="738.96" y="296.38" width="1.8" height="6.13" fill="#089981"/>
<line x1="742.62" y1="295.61" x2="742.62" y2="300.21" stroke="#089981" stroke-width="1.0" stroke-opacity="0.85"/>
<rect x="741.72" y="296.38" width="1.8" height="3.07" fill="#089981"/>
<line x1="745.38" y1="295.61" x2="745.38" y2="300.21" stroke="#089981" stroke-width="1.0" stroke-opacity="0.85"/>
<rect x="744.48" y="296.38" width="1.8" height="3.07" fill="#089981"/>
<line x1="748.15" y1="296.57" x2="748.15" y2="307.08" stroke="#F23645" stroke-width="1.0" stroke-opacity="0.85"/>
<rect x="747.25" y="297.22" width="1.8" height="7.88" fill="#F23645"/>
<line x1="750.91" y1="304.45" x2="750.91" y2="311.67" stroke="#F23645" stroke-width="1.0" stroke-opacity="0.85"/>
<rect x="750.01" y="305.11" width="1.8" height="5.25" fill="#F23645"/>
<line x1="753.67" y1="309.05" x2="753.67" y2="327.44" stroke="#F23645" stroke-width="1.0" stroke-opacity="0.85"/>
<rect x="752.77" y="309.70" width="1.8" height="7.22" fill="#F23645"/>
<line x1="756.43" y1="315.62" x2="756.43" y2="323.50" stroke="#F23645" stroke-width="1.0" stroke-opacity="0.85"/>
<rect x="755.53" y="316.27" width="1.8" height="5.25" fill="#F23645"/>
<line x1="759.20" y1="314.96" x2="759.20" y2="325.47" stroke="#089981" stroke-width="1.0" stroke-opacity="0.85"/>
<rect x="758.30" y="318.90" width="1.8" height="1.97" fill="#089981"/>
<line x1="761.96" y1="316.27" x2="761.96" y2="325.47" stroke="#F23645" stroke-width="1.0" stroke-opacity="0.85"/>
<rect x="761.06" y="318.24" width="1.8" height="3.28" fill="#F23645"/>
<line x1="764.72" y1="320.21" x2="764.72" y2="324.81" stroke="#F23645" stroke-width="1.0" stroke-opacity="0.85"/>
<rect x="763.82" y="320.87" width="1.8" height="3.28" fill="#F23645"/>
<line x1="767.49" y1="323.50" x2="767.49" y2="343.20" stroke="#F23645" stroke-width="1.0" stroke-opacity="0.85"/>
<rect x="766.59" y="324.15" width="1.8" height="16.42" fill="#F23645"/>
<line x1="770.25" y1="324.15" x2="770.25" y2="347.80" stroke="#089981" stroke-width="1.0" stroke-opacity="0.85"/>
<rect x="769.35" y="328.75" width="1.8" height="11.82" fill="#089981"/>
<line x1="773.01" y1="328.75" x2="773.01" y2="333.35" stroke="#F23645" stroke-width="1.0" stroke-opacity="0.85"/>
<rect x="772.11" y="329.41" width="1.8" height="3.28" fill="#F23645"/>
<line x1="775.78" y1="328.10" x2="775.78" y2="332.69" stroke="#F23645" stroke-width="1.0" stroke-opacity="0.85"/>
<rect x="774.88" y="329.41" width="1.8" height="2.63" fill="#F23645"/>
<line x1="778.54" y1="329.41" x2="778.54" y2="333.35" stroke="#F23645" stroke-width="1.0" stroke-opacity="0.85"/>
<rect x="777.64" y="330.72" width="1.8" height="1.97" fill="#F23645"/>
<line x1="781.30" y1="331.38" x2="781.30" y2="334.01" stroke="#F23645" stroke-width="1.0" stroke-opacity="0.85"/>
<rect x="780.40" y="332.04" width="1.8" height="1.58" fill="#F23645"/>
<line x1="209" y1="85.6" x2="781" y2="292.8" stroke="#222" stroke-width="1.3"/>
</svg>

<svg style="position:absolute;left:0;top:0" width="18" height="16"><circle cx="10.6" cy="5.6" r="4.2" fill="#13A2AA"/><path d="M9.4 3.9 L12.6 5.6 L9.4 7.3Z" fill="#BFEFF0" opacity="0.8"/><circle cx="5.6" cy="10" r="4.9" fill="#FFF59D"/><circle cx="5.6" cy="10" r="4.2" fill="#0E0E0E"/><circle cx="5.6" cy="10" r="2.1" fill="#5a5a5a"/></svg>

<svg style="position:absolute;left:186.5px;top:1.8px" width="13" height="13"><circle cx="6.5" cy="6.5" r="6.2" fill="#CDE7A2"/><circle cx="6.5" cy="6.5" r="2.9" fill="#089981"/></svg>
<div class="t" style="left:17.30px;top:4.0px;font-size:11.4px;color:#1c1c1c;transform:scaleX(1.028);transform-origin:left top;-webkit-text-stroke:0.3px #1c1c1c">Stellar</div>
<div class="t" style="left:55.60px;top:4.0px;font-size:11.4px;color:#1c1c1c;transform:scaleX(0.800);transform-origin:left top;-webkit-text-stroke:0.3px #1c1c1c">/</div>
<div class="t" style="left:64.20px;top:4.0px;font-size:11.4px;color:#1c1c1c;transform:scaleX(0.964);transform-origin:left top;-webkit-text-stroke:0.3px #1c1c1c">TetherUS</div>
<div class="t" style="left:119.20px;top:4.0px;font-size:11.4px;color:#1c1c1c;transform:scaleX(0.773);transform-origin:left top;-webkit-text-stroke:0.3px #1c1c1c">1D</div>
<div class="t" style="left:140.80px;top:4.0px;font-size:11.4px;color:#1c1c1c;transform:scaleX(0.956);transform-origin:left top;-webkit-text-stroke:0.3px #1c1c1c">Binance</div>
<div style="position:absolute;left:113.3px;top:7.8px;width:2px;height:2px;background:#3a3a3a;border-radius:0.5px"></div><div style="position:absolute;left:134.6px;top:7.8px;width:2px;height:2px;background:#3a3a3a;border-radius:0.5px"></div>
<div class="t" style="left:205px;top:4.3px;font-size:9.6px;color:#555;transform:scaleX(0.750);transform-origin:left top;">O</div>
<div class="t" style="left:211.7px;top:4.3px;font-size:9.6px;color:#F23645;transform:scaleX(0.965);transform-origin:left top;">0.1596</div>
<div class="t" style="left:244.5px;top:4.3px;font-size:9.6px;color:#555;transform:scaleX(0.867);transform-origin:left top;">H</div>
<div class="t" style="left:251.5px;top:4.3px;font-size:9.6px;color:#F23645;transform:scaleX(0.938);transform-origin:left top;">0.1610</div>
<div class="t" style="left:283.7px;top:4.3px;font-size:9.6px;color:#555;transform:scaleX(0.901);transform-origin:left top;">L</div>
<div class="t" style="left:290px;top:4.3px;font-size:9.6px;color:#F23645;transform:scaleX(0.928);transform-origin:left top;">0.1557</div>
<div class="t" style="left:322px;top:4.3px;font-size:9.6px;color:#555;transform:scaleX(0.751);transform-origin:left top;">C</div>
<div class="t" style="left:328px;top:4.3px;font-size:9.6px;color:#F23645;transform:scaleX(0.955);transform-origin:left top;">0.1569</div>
<div class="t" style="left:360.5px;top:4.3px;font-size:9.6px;color:#F23645;transform:scaleX(0.916);transform-origin:left top;">−0.0027</div>
<div class="t" style="left:396.5px;top:4.3px;font-size:9.6px;color:#F23645;transform:scaleX(0.881);transform-origin:left top;">(−1.69%)</div>

<div style="position:absolute;left:1px;top:19.5px;width:42.8px;height:24.3px;background:#fff;border:1px solid #F6A3A3;border-radius:3.5px"></div>
<div class="t" style="left:1px;width:42.8px;text-align:center;top:23.2px;font-size:9px;font-weight:bold;color:#F23645">0.1568</div>
<div class="t" style="left:1px;width:42.8px;text-align:center;top:34px;font-size:7.2px;color:#F23645">SELL</div>
<div class="t" style="left:50.5px;top:28px;font-size:7px;color:#333">0.0001</div>
<div style="position:absolute;left:78px;top:19.5px;width:43.6px;height:24.5px;background:#fff;border:1px solid #A7B8EE;border-radius:3.5px"></div>
<div class="t" style="left:78px;width:43.6px;text-align:center;top:23.2px;font-size:9px;font-weight:bold;color:#2962FF">0.1569</div>
<div class="t" style="left:78px;width:43.6px;text-align:center;top:34px;font-size:7.2px;color:#2962FF">BUY</div>
<div style="position:absolute;left:1px;top:49px;width:21.5px;height:14.5px;border:1px solid #EDE3A8;border-radius:2px"></div>
<svg style="position:absolute;left:4.5px;top:53.5px" width="8" height="6"><polyline points="1,1.3 3.3,3.6 5.6,1.3" fill="none" stroke="#222" stroke-width="1.2"/></svg>
<div class="t" style="left:14.8px;top:52.3px;font-size:9.4px;color:#222">2</div>
<div class="t" style="left:984.8px;top:24.35px;font-size:8.9px;color:#2a2a2a;transform:scaleX(0.965);transform-origin:left top;-webkit-text-stroke:0.2px #2a2a2a">0.6000</div>
<div class="t" style="left:984.8px;top:58.87px;font-size:8.9px;color:#2a2a2a;transform:scaleX(0.965);transform-origin:left top;-webkit-text-stroke:0.2px #2a2a2a">0.5500</div>
<div class="t" style="left:984.8px;top:93.39px;font-size:8.9px;color:#2a2a2a;transform:scaleX(0.965);transform-origin:left top;-webkit-text-stroke:0.2px #2a2a2a">0.5000</div>
<div class="t" style="left:984.8px;top:127.91px;font-size:8.9px;color:#2a2a2a;transform:scaleX(0.965);transform-origin:left top;-webkit-text-stroke:0.2px #2a2a2a">0.4500</div>
<div class="t" style="left:984.8px;top:162.43px;font-size:8.9px;color:#2a2a2a;transform:scaleX(0.965);transform-origin:left top;-webkit-text-stroke:0.2px #2a2a2a">0.4000</div>
<div class="t" style="left:984.8px;top:196.95px;font-size:8.9px;color:#2a2a2a;transform:scaleX(0.965);transform-origin:left top;-webkit-text-stroke:0.2px #2a2a2a">0.3500</div>
<div class="t" style="left:984.8px;top:231.47px;font-size:8.9px;color:#2a2a2a;transform:scaleX(0.965);transform-origin:left top;-webkit-text-stroke:0.2px #2a2a2a">0.3000</div>
<div class="t" style="left:984.8px;top:369.55px;font-size:8.9px;color:#2a2a2a;transform:scaleX(0.965);transform-origin:left top;-webkit-text-stroke:0.2px #2a2a2a">0.1000</div>
<div class="t" style="left:984.8px;top:404.07px;font-size:8.9px;color:#2a2a2a;transform:scaleX(0.965);transform-origin:left top;-webkit-text-stroke:0.2px #2a2a2a">0.0500</div>
<div style="position:absolute;left:979px;top:248px;width:35.6px;height:11.8px;background:#0000F5;border-radius:1px"></div>
<div class="t" style="left:985.1px;top:250.16px;font-size:9.3px;color:#fff;transform:scaleX(0.928);transform-origin:left top;-webkit-text-stroke:0.2px #fff">0.2647</div>
<div style="position:absolute;left:979px;top:261px;width:35.6px;height:11px;background:#EE3A4C;border-radius:1px"></div>
<div class="t" style="left:985.1px;top:262.76px;font-size:9.3px;color:#fff;transform:scaleX(0.928);transform-origin:left top;-webkit-text-stroke:0.2px #fff">0.2550</div>
<div style="position:absolute;left:979px;top:276.4px;width:35.6px;height:11.5px;background:#00FFFF;border-radius:1px"></div>
<div class="t" style="left:985.1px;top:278.41px;font-size:9.3px;color:#131722;transform:scaleX(0.928);transform-origin:left top;-webkit-text-stroke:0.2px #131722">0.2319</div>
<div style="position:absolute;left:979px;top:295.7px;width:35.6px;height:11.9px;background:#FF8000;border-radius:1px"></div>
<div class="t" style="left:985.1px;top:297.91px;font-size:9.3px;color:#fff;transform:scaleX(0.928);transform-origin:left top;-webkit-text-stroke:0.2px #fff">0.2034</div>
<div style="position:absolute;left:979px;top:311.7px;width:35.6px;height:11.9px;background:#FF0000;border-radius:1px"></div>
<div class="t" style="left:985.1px;top:313.91px;font-size:9.3px;color:#fff;transform:scaleX(0.928);transform-origin:left top;-webkit-text-stroke:0.2px #fff">0.1803</div>
<div style="position:absolute;left:937px;top:328.3px;width:41.2px;height:11.5px;background:#EE3A4C;border-radius:1.5px 0 0 1.5px"></div>
<div class="t" style="left:940.2px;top:330.0px;font-size:9.0px;color:#fff;transform:scaleX(0.805);transform-origin:left top;-webkit-text-stroke:0.2px #fff">XLMUSDT</div>

<div style="position:absolute;left:979px;top:328.3px;width:43.2px;height:21.4px;background:#EE3A4C;border-radius:0 2px 2px 0"></div>
<div class="t" style="left:985.1px;top:329.8px;font-size:9.3px;color:#fff;transform:scaleX(0.928);transform-origin:left top;-webkit-text-stroke:0.2px #fff">0.1569</div>
<div class="t" style="left:985.6px;top:339.90000000000003px;font-size:9.0px;color:#FBD5D8;transform:scaleX(0.963);transform-origin:left top;-webkit-text-stroke:0.15px #FBD5D8">15:45:58</div>

<div style="position:absolute;left:979px;top:429.5px;width:38.5px;height:11.3px;background:#F0505C;border-radius:1px"></div>
<div class="t" style="left:985.5px;top:430.6px;font-size:9.0px;color:#fff;transform:scaleX(0.923);transform-origin:left top;-webkit-text-stroke:0.2px #fff">15.09 M</div>

<svg style="position:absolute;left:997px;top:446.5px" width="12" height="11"><polygon points="3.4,0.8 8.6,0.8 11.2,5.3 8.6,9.8 3.4,9.8 0.8,5.3" fill="none" stroke="#333" stroke-width="0.9" stroke-linejoin="round"/><circle cx="6" cy="5.3" r="1.7" fill="none" stroke="#333" stroke-width="0.9"/></svg>
<div class="t" style="left:72.5px;top:447.6px;font-size:9.3px;color:#2a2a2a;transform:scaleX(0.900);transform-origin:left top;-webkit-text-stroke:0.15px #2a2a2a">Jun</div>
<div class="t" style="left:157.0px;top:447.6px;font-size:9.3px;color:#2a2a2a;transform:scaleX(0.841);transform-origin:left top;-webkit-text-stroke:0.15px #2a2a2a">Jul</div>
<div class="t" style="left:241.0px;top:447.6px;font-size:9.3px;color:#2a2a2a;transform:scaleX(0.846);transform-origin:left top;-webkit-text-stroke:0.15px #2a2a2a">Aug</div>
<div class="t" style="left:326.5px;top:447.6px;font-size:9.3px;color:#2a2a2a;transform:scaleX(0.846);transform-origin:left top;-webkit-text-stroke:0.15px #2a2a2a">Sep</div>
<div class="t" style="left:409.77px;top:447.6px;font-size:9.3px;color:#2a2a2a;transform:scaleX(0.916);transform-origin:left top;-webkit-text-stroke:0.15px #2a2a2a">Oct</div>
<div class="t" style="left:494.75px;top:447.6px;font-size:9.3px;color:#2a2a2a;transform:scaleX(0.907);transform-origin:left top;-webkit-text-stroke:0.15px #2a2a2a">Nov</div>
<div class="t" style="left:577.5px;top:447.6px;font-size:9.3px;color:#2a2a2a;transform:scaleX(0.876);transform-origin:left top;-webkit-text-stroke:0.15px #2a2a2a">Dec</div>
<div class="t" style="left:660.77px;top:447.6px;font-size:9.3px;font-weight:bold;color:#1e1e1e;transform:scaleX(0.931);transform-origin:left top">2026</div>
<div class="t" style="left:749.0px;top:447.6px;font-size:9.3px;color:#2a2a2a;transform:scaleX(0.874);transform-origin:left top;-webkit-text-stroke:0.15px #2a2a2a">Feb</div>
<div class="t" style="left:826.77px;top:447.6px;font-size:9.3px;color:#2a2a2a;transform:scaleX(0.890);transform-origin:left top;-webkit-text-stroke:0.15px #2a2a2a">Mar</div>
<div class="t" style="left:912.5px;top:447.6px;font-size:9.3px;color:#2a2a2a;transform:scaleX(0.933);transform-origin:left top;-webkit-text-stroke:0.15px #2a2a2a">Apr</div>
<svg style="position:absolute;left:2.6px;top:419.8px" width="23" height="12" viewBox="-1 -1 23 12" overflow="visible"><g fill="#131722" stroke="#fff" stroke-width="1.6" stroke-linejoin="round" paint-order="stroke"><path d="M0 0H7.9V9.9H4V3.3H0Z"/><circle cx="12.2" cy="1.8" r="1.6"/><path d="M15.4 0H21L17.4 9.9H12.5Z"/></g></svg>
<svg style="position:absolute;left:28px;top:414px" width="95" height="24"><text x="2.2" y="17" font-family="Liberation Sans" font-weight="bold" font-size="14.7" fill="#131722" stroke="#fff" stroke-width="2.4" stroke-linejoin="round" paint-order="stroke">TradingView</text></svg>
<svg style="position:absolute;left:772px;top:422px" width="20" height="20"><circle cx="9.4" cy="9.7" r="6.9" fill="#fff" stroke="#9C27B0" stroke-width="1.6"/><path d="M11.6 5.2L6.4 10.6H9.2L7.2 14.4L12.6 8.8H9.8Z" fill="#9C27B0"/><circle cx="14.5" cy="4.8" r="2.5" fill="#F23645" stroke="#fff" stroke-width="1"/></svg>
</div></body></html>
